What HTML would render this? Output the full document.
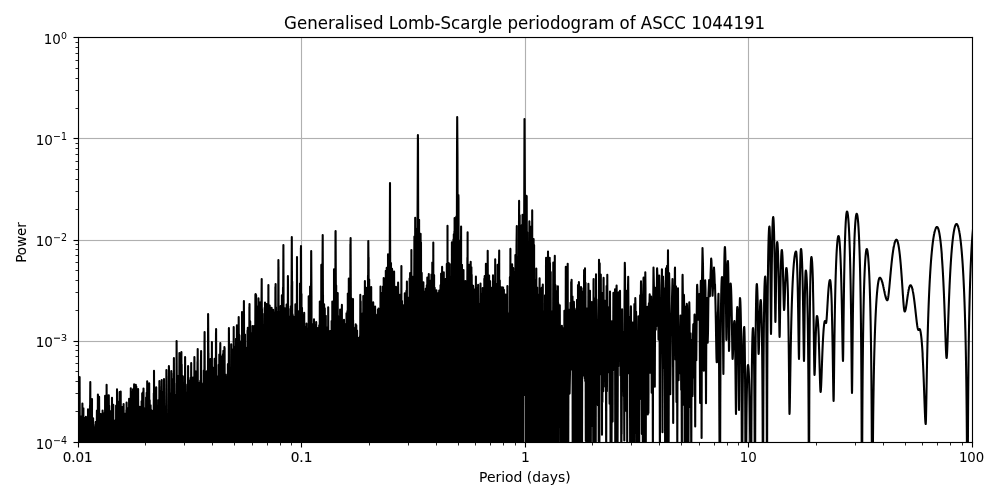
<!DOCTYPE html>
<html><head><meta charset="utf-8"><title>Generalised Lomb-Scargle periodogram of ASCC 1044191</title>
<style>html,body{margin:0;padding:0;background:#fff;}svg{display:block;}</style></head>
<body>
<svg width="1000" height="500" viewBox="0 0 1000 500">
<defs><clipPath id="ax"><rect x="78" y="37" width="894" height="405"/></clipPath></defs>
<rect x="0" y="0" width="1000" height="500" fill="#fff"/>
<g shape-rendering="crispEdges">
<rect x="300" y="39" width="1" height="98" fill="#fafafa"/>
<rect x="300" y="140" width="1" height="99" fill="#fafafa"/>
<rect x="300" y="242" width="1" height="98" fill="#fafafa"/>
<rect x="300" y="343" width="1" height="98" fill="#fafafa"/>
<rect x="301" y="39" width="1" height="402" fill="#b0b0b0"/>
<rect x="302" y="39" width="1" height="98" fill="#fafafa"/>
<rect x="302" y="140" width="1" height="99" fill="#fafafa"/>
<rect x="302" y="242" width="1" height="98" fill="#fafafa"/>
<rect x="302" y="343" width="1" height="98" fill="#fafafa"/>
<rect x="524" y="39" width="1" height="98" fill="#fafafa"/>
<rect x="524" y="140" width="1" height="99" fill="#fafafa"/>
<rect x="524" y="242" width="1" height="98" fill="#fafafa"/>
<rect x="524" y="343" width="1" height="98" fill="#fafafa"/>
<rect x="525" y="39" width="1" height="402" fill="#b0b0b0"/>
<rect x="526" y="39" width="1" height="98" fill="#fafafa"/>
<rect x="526" y="140" width="1" height="99" fill="#fafafa"/>
<rect x="526" y="242" width="1" height="98" fill="#fafafa"/>
<rect x="526" y="343" width="1" height="98" fill="#fafafa"/>
<rect x="747" y="39" width="1" height="98" fill="#fafafa"/>
<rect x="747" y="140" width="1" height="99" fill="#fafafa"/>
<rect x="747" y="242" width="1" height="98" fill="#fafafa"/>
<rect x="747" y="343" width="1" height="98" fill="#fafafa"/>
<rect x="748" y="39" width="1" height="402" fill="#b0b0b0"/>
<rect x="749" y="39" width="1" height="98" fill="#fafafa"/>
<rect x="749" y="140" width="1" height="99" fill="#fafafa"/>
<rect x="749" y="242" width="1" height="98" fill="#fafafa"/>
<rect x="749" y="343" width="1" height="98" fill="#fafafa"/>
<rect x="80" y="137" width="220" height="1" fill="#fafafa"/>
<rect x="300" y="137" width="1" height="1" fill="#f5f5f5"/>
<rect x="302" y="137" width="1" height="1" fill="#f5f5f5"/>
<rect x="303" y="137" width="221" height="1" fill="#fafafa"/>
<rect x="524" y="137" width="1" height="1" fill="#f5f5f5"/>
<rect x="526" y="137" width="1" height="1" fill="#f5f5f5"/>
<rect x="527" y="137" width="220" height="1" fill="#fafafa"/>
<rect x="747" y="137" width="1" height="1" fill="#f5f5f5"/>
<rect x="749" y="137" width="1" height="1" fill="#f5f5f5"/>
<rect x="750" y="137" width="221" height="1" fill="#fafafa"/>
<rect x="80" y="138" width="221" height="1" fill="#b0b0b0"/>
<rect x="302" y="138" width="223" height="1" fill="#b0b0b0"/>
<rect x="526" y="138" width="222" height="1" fill="#b0b0b0"/>
<rect x="749" y="138" width="222" height="1" fill="#b0b0b0"/>
<rect x="80" y="139" width="220" height="1" fill="#fafafa"/>
<rect x="300" y="139" width="1" height="1" fill="#f5f5f5"/>
<rect x="302" y="139" width="1" height="1" fill="#f5f5f5"/>
<rect x="303" y="139" width="221" height="1" fill="#fafafa"/>
<rect x="524" y="139" width="1" height="1" fill="#f5f5f5"/>
<rect x="526" y="139" width="1" height="1" fill="#f5f5f5"/>
<rect x="527" y="139" width="220" height="1" fill="#fafafa"/>
<rect x="747" y="139" width="1" height="1" fill="#f5f5f5"/>
<rect x="749" y="139" width="1" height="1" fill="#f5f5f5"/>
<rect x="750" y="139" width="221" height="1" fill="#fafafa"/>
<rect x="80" y="239" width="220" height="1" fill="#fafafa"/>
<rect x="300" y="239" width="1" height="1" fill="#f5f5f5"/>
<rect x="302" y="239" width="1" height="1" fill="#f5f5f5"/>
<rect x="303" y="239" width="221" height="1" fill="#fafafa"/>
<rect x="524" y="239" width="1" height="1" fill="#f5f5f5"/>
<rect x="526" y="239" width="1" height="1" fill="#f5f5f5"/>
<rect x="527" y="239" width="220" height="1" fill="#fafafa"/>
<rect x="747" y="239" width="1" height="1" fill="#f5f5f5"/>
<rect x="749" y="239" width="1" height="1" fill="#f5f5f5"/>
<rect x="750" y="239" width="221" height="1" fill="#fafafa"/>
<rect x="80" y="240" width="221" height="1" fill="#b0b0b0"/>
<rect x="302" y="240" width="223" height="1" fill="#b0b0b0"/>
<rect x="526" y="240" width="222" height="1" fill="#b0b0b0"/>
<rect x="749" y="240" width="222" height="1" fill="#b0b0b0"/>
<rect x="80" y="241" width="220" height="1" fill="#fafafa"/>
<rect x="300" y="241" width="1" height="1" fill="#f5f5f5"/>
<rect x="302" y="241" width="1" height="1" fill="#f5f5f5"/>
<rect x="303" y="241" width="221" height="1" fill="#fafafa"/>
<rect x="524" y="241" width="1" height="1" fill="#f5f5f5"/>
<rect x="526" y="241" width="1" height="1" fill="#f5f5f5"/>
<rect x="527" y="241" width="220" height="1" fill="#fafafa"/>
<rect x="747" y="241" width="1" height="1" fill="#f5f5f5"/>
<rect x="749" y="241" width="1" height="1" fill="#f5f5f5"/>
<rect x="750" y="241" width="221" height="1" fill="#fafafa"/>
<rect x="80" y="340" width="220" height="1" fill="#fafafa"/>
<rect x="300" y="340" width="1" height="1" fill="#f5f5f5"/>
<rect x="302" y="340" width="1" height="1" fill="#f5f5f5"/>
<rect x="303" y="340" width="221" height="1" fill="#fafafa"/>
<rect x="524" y="340" width="1" height="1" fill="#f5f5f5"/>
<rect x="526" y="340" width="1" height="1" fill="#f5f5f5"/>
<rect x="527" y="340" width="220" height="1" fill="#fafafa"/>
<rect x="747" y="340" width="1" height="1" fill="#f5f5f5"/>
<rect x="749" y="340" width="1" height="1" fill="#f5f5f5"/>
<rect x="750" y="340" width="221" height="1" fill="#fafafa"/>
<rect x="80" y="341" width="221" height="1" fill="#b0b0b0"/>
<rect x="302" y="341" width="223" height="1" fill="#b0b0b0"/>
<rect x="526" y="341" width="222" height="1" fill="#b0b0b0"/>
<rect x="749" y="341" width="222" height="1" fill="#b0b0b0"/>
<rect x="80" y="342" width="220" height="1" fill="#fafafa"/>
<rect x="300" y="342" width="1" height="1" fill="#f5f5f5"/>
<rect x="302" y="342" width="1" height="1" fill="#f5f5f5"/>
<rect x="303" y="342" width="221" height="1" fill="#fafafa"/>
<rect x="524" y="342" width="1" height="1" fill="#f5f5f5"/>
<rect x="526" y="342" width="1" height="1" fill="#f5f5f5"/>
<rect x="527" y="342" width="220" height="1" fill="#fafafa"/>
<rect x="747" y="342" width="1" height="1" fill="#f5f5f5"/>
<rect x="749" y="342" width="1" height="1" fill="#f5f5f5"/>
<rect x="750" y="342" width="221" height="1" fill="#fafafa"/>
</g>
<g clip-path="url(#ax)">
<polyline points="76.0,470.0 76.0,440.9 76.5,470.0 76.5,470.0 76.8,438.2 77.0,470.0 77.0,470.0 77.3,435.0 77.5,470.0 77.5,470.0 77.8,437.0 78.0,470.0 78.0,470.0 78.2,421.9 78.5,470.0 78.5,470.0 78.7,410.8 79.0,470.0 79.0,470.0 79.5,386.2 79.5,408.9 79.5,408.9 79.6,377.0 79.9,470.0 80.0,470.0 80.0,470.0 80.5,416.2 80.5,470.0 80.5,470.0 80.6,420.7 81.0,470.0 81.0,470.0 81.5,420.8 81.5,470.0 81.5,470.0 81.7,439.5 82.0,470.0 82.0,470.0 82.4,403.6 82.5,470.0 82.5,470.0 82.7,426.0 83.0,470.0 83.0,470.0 83.4,408.3 83.5,470.0 83.5,470.0 83.9,433.1 84.0,470.0 84.0,470.0 84.5,418.3 84.5,470.0 84.5,470.0 84.7,423.5 85.0,470.0 85.0,470.0 85.2,421.3 85.5,458.0 85.5,448.3 85.5,470.0 85.9,416.7 86.0,470.0 86.0,470.0 86.3,431.5 86.5,470.0 86.5,470.0 87.0,429.4 87.0,470.0 87.0,470.0 87.0,429.9 87.5,470.0 87.5,470.0 87.9,429.1 88.0,470.0 88.0,470.0 88.0,409.4 88.5,470.0 88.5,470.0 88.6,421.2 89.0,468.9 89.0,470.0 89.1,418.2 89.5,470.0 89.5,470.0 90.0,405.4 90.0,424.6 90.0,423.0 90.3,382.0 90.5,462.8 90.5,460.9 90.5,461.9 90.5,419.5 90.5,470.0 91.0,465.9 91.0,454.7 91.0,470.0 91.1,408.3 91.5,470.0 91.5,470.0 92.0,399.1 92.0,470.0 92.0,470.0 92.0,422.5 92.5,470.0 92.5,470.0 92.5,425.0 93.0,470.0 93.0,470.0 93.1,418.3 93.5,470.0 93.5,470.0 94.0,433.0 94.0,470.0 94.0,470.0 94.2,427.8 94.5,456.8 94.5,456.5 94.5,470.0 94.6,438.3 95.0,470.0 95.0,470.0 95.4,424.7 95.5,470.0 95.5,470.0 95.7,422.0 96.0,470.0 96.0,470.0 96.3,425.3 96.5,470.0 96.5,470.0 96.9,410.6 97.0,470.0 97.0,470.0 97.0,426.5 97.5,470.0 97.5,470.0 97.9,394.6 98.0,470.0 98.0,470.0 98.1,410.7 98.5,470.0 98.5,470.0 98.9,422.9 99.0,470.0 99.0,470.0 99.1,396.7 99.5,470.0 99.5,470.0 99.9,430.2 100.0,470.0 100.0,470.0 100.3,414.0 100.5,470.0 100.5,470.0 100.9,428.9 101.0,470.0 101.0,470.0 101.4,414.4 101.5,470.0 101.5,470.0 101.6,427.9 102.0,470.0 102.0,470.0 102.2,417.2 102.5,470.0 102.5,470.0 102.6,410.5 103.0,470.0 103.0,470.0 103.4,423.0 103.5,470.0 103.5,470.0 103.8,413.6 104.0,470.0 104.0,470.0 104.5,414.6 104.5,470.0 104.5,470.0 105.0,424.5 105.0,470.0 105.0,470.0 105.1,395.8 105.5,470.0 105.5,470.0 105.8,408.3 106.0,470.0 106.0,470.0 106.3,408.2 106.5,462.8 106.5,460.4 106.5,470.0 106.6,384.7 107.0,470.0 107.0,470.0 107.2,431.7 107.5,458.7 107.5,455.2 107.5,470.0 107.9,395.7 108.0,470.0 108.0,470.0 108.4,402.9 108.5,464.5 108.5,467.2 108.5,470.0 108.8,395.3 109.0,470.0 109.0,470.0 109.2,405.8 109.5,470.0 109.5,470.0 109.8,411.2 110.0,470.0 110.0,470.0 110.2,411.0 110.5,470.0 110.5,470.0 110.6,427.1 111.0,470.0 111.0,470.0 111.3,418.4 111.5,464.1 111.5,470.0 112.0,397.8 112.0,445.7 112.0,458.1 112.0,470.0 112.1,425.1 112.5,470.0 112.5,470.0 113.0,410.7 113.0,446.3 113.0,452.5 113.0,470.0 113.3,404.8 113.5,470.0 113.5,470.0 113.6,429.4 114.0,470.0 114.0,470.0 114.1,425.0 114.5,470.0 114.5,470.0 115.0,420.8 115.0,470.0 115.0,470.0 115.2,425.3 115.5,470.0 115.5,470.0 115.6,420.1 116.0,470.0 116.0,470.0 116.1,405.5 116.5,470.0 116.5,470.0 116.7,422.2 117.0,445.7 117.0,435.8 117.0,470.0 117.0,389.3 117.5,470.0 117.5,470.0 117.6,403.5 118.0,470.0 118.0,470.0 118.1,401.6 118.5,470.0 118.5,470.0 118.7,414.5 119.0,470.0 119.0,470.0 119.1,407.3 119.5,470.0 119.5,470.0 119.6,392.0 120.0,470.0 120.0,470.0 120.5,392.2 120.5,470.0 120.5,470.0 120.7,391.6 121.0,470.0 121.0,470.0 121.1,412.0 121.5,470.0 121.5,470.0 121.7,420.4 122.0,458.7 122.0,459.2 122.0,470.0 122.3,407.0 122.5,470.0 122.5,470.0 122.8,418.3 123.0,470.0 123.0,470.0 123.1,416.6 123.5,470.0 123.5,470.0 123.6,404.0 124.0,470.0 124.0,470.0 124.3,434.2 124.5,470.0 124.5,470.0 125.0,421.8 125.0,470.0 125.0,470.0 125.4,413.6 125.5,470.0 125.5,470.0 125.9,432.9 126.0,450.8 126.0,440.7 126.0,470.0 126.4,410.1 126.5,470.0 126.5,470.0 126.6,402.5 127.0,470.0 127.0,470.0 127.5,408.6 127.5,470.0 127.5,470.0 127.5,408.1 128.0,470.0 128.0,470.0 128.2,412.0 128.5,469.8 128.5,468.1 128.5,470.0 128.6,415.2 129.0,470.0 129.0,470.0 129.1,398.8 129.5,470.0 129.5,470.0 129.8,409.1 130.0,470.0 130.0,470.0 130.2,407.2 130.5,470.0 130.5,470.0 130.8,388.2 131.0,442.9 131.0,447.0 131.0,470.0 131.3,394.5 131.5,470.0 131.5,470.0 131.9,407.8 132.0,458.0 132.0,454.6 132.0,470.0 132.5,391.9 132.5,441.8 132.5,435.1 132.5,470.0 133.0,389.2 133.0,470.0 133.0,470.0 133.0,399.7 133.5,466.7 133.5,470.0 134.0,400.4 134.0,470.0 134.0,470.0 134.1,384.4 134.5,470.0 134.5,470.0 134.7,400.6 135.0,452.4 135.0,446.0 135.0,470.0 135.5,389.1 135.5,443.2 135.5,447.4 135.5,470.0 135.8,384.7 136.0,444.1 136.0,451.6 136.0,470.0 136.3,386.5 136.5,469.4 136.5,470.0 136.7,405.9 137.0,470.0 137.0,470.0 137.1,403.5 137.5,470.0 137.5,470.0 137.9,398.2 138.0,458.3 138.0,465.0 138.0,470.0 138.1,389.0 138.5,470.0 138.5,470.0 138.5,411.2 139.0,453.0 139.0,467.5 139.0,470.0 139.1,424.6 139.5,470.0 139.5,470.0 139.9,406.9 140.0,470.0 140.0,470.0 140.1,416.1 140.5,470.0 140.5,470.0 141.0,420.3 141.0,470.0 141.0,470.0 141.1,414.3 141.5,469.4 141.5,470.0 141.6,401.3 142.0,470.0 142.0,470.0 142.2,393.4 142.5,446.9 142.5,447.5 142.5,470.0 142.7,401.4 143.0,470.0 143.0,470.0 143.3,391.4 143.5,470.0 143.5,470.0 143.5,388.6 144.0,465.3 144.0,470.0 144.1,408.1 144.5,470.0 144.5,470.0 145.0,417.2 145.0,470.0 145.0,470.0 145.3,414.5 145.5,470.0 145.5,470.0 145.8,419.4 146.0,470.0 146.0,470.0 146.1,397.6 146.5,470.0 146.5,470.0 146.7,392.8 147.0,470.0 147.0,470.0 147.2,381.2 147.5,470.0 147.5,470.0 147.7,394.7 148.0,468.5 148.0,470.0 148.3,421.0 148.5,470.0 148.5,470.0 148.5,415.0 149.0,470.0 149.0,470.0 149.2,383.2 149.5,470.0 149.5,470.0 149.7,400.2 150.0,470.0 150.0,470.0 150.3,418.0 150.5,470.0 150.5,470.0 150.6,405.2 151.0,459.9 151.0,470.0 151.3,425.5 151.5,470.0 151.5,470.0 151.7,410.6 152.0,470.0 152.0,470.0 152.2,416.6 152.5,470.0 152.5,470.0 152.7,417.3 153.0,470.0 153.0,470.0 153.1,414.2 153.5,470.0 153.5,470.0 153.8,393.2 154.0,470.0 154.0,470.0 154.0,370.7 154.5,470.0 154.5,470.0 155.0,401.2 155.0,470.0 155.0,470.0 155.3,404.1 155.5,470.0 155.5,470.0 155.8,413.7 156.0,470.0 156.0,470.0 156.2,387.2 156.5,470.0 156.5,470.0 156.9,412.4 157.0,470.0 157.0,470.0 157.5,414.0 157.5,470.0 157.5,470.0 157.6,422.6 158.0,470.0 158.0,470.0 158.4,400.1 158.5,470.0 158.5,470.0 158.6,404.0 159.0,470.0 159.0,470.0 159.4,381.0 159.5,404.3 159.5,404.0 159.5,386.3 159.7,470.0 160.0,470.0 160.0,470.0 160.3,397.5 160.5,440.0 160.5,434.0 160.5,470.0 160.7,401.0 161.0,470.0 161.0,470.0 161.5,390.2 161.5,430.2 161.5,422.1 161.7,380.0 162.0,470.0 162.0,437.7 162.0,443.3 162.0,470.0 162.3,391.9 162.5,420.3 162.5,416.9 162.5,470.0 162.7,402.5 163.0,404.2 163.0,423.1 163.0,470.0 163.3,422.0 163.5,457.2 163.5,459.0 163.5,470.0 164.0,381.9 164.0,401.5 164.0,402.2 164.0,379.0 164.4,470.0 164.5,470.0 164.5,470.0 164.7,408.9 165.0,470.0 165.0,456.1 165.0,470.0 165.3,413.3 165.5,470.0 165.5,470.0 165.6,406.3 166.0,470.0 166.0,470.0 166.4,370.0 166.5,390.1 166.5,388.3 166.5,375.7 166.8,470.0 167.0,445.5 167.0,450.0 167.0,470.0 167.4,421.6 167.5,470.0 167.5,470.0 167.7,418.2 168.0,470.0 168.0,470.0 168.3,416.2 168.5,470.0 168.5,470.0 168.9,366.0 169.0,394.5 169.0,389.9 169.0,367.3 169.2,470.0 169.5,470.0 169.5,470.0 169.6,393.4 170.0,470.0 170.0,470.0 170.2,396.0 170.5,452.3 170.5,444.3 170.5,470.0 170.8,401.8 171.0,432.7 171.0,449.4 171.0,470.0 171.3,371.0 171.5,402.3 171.5,401.7 171.5,373.2 171.8,470.0 172.0,470.0 172.0,464.2 172.0,470.0 172.1,380.7 172.5,470.0 172.5,470.0 172.6,379.8 173.0,459.3 173.0,468.1 173.0,470.0 173.4,395.6 173.5,470.0 173.5,470.0 173.9,358.0 174.0,399.6 174.0,399.6 174.1,383.3 174.3,470.0 174.5,470.0 174.5,470.0 174.7,403.7 175.0,470.0 175.0,470.0 175.3,395.1 175.5,470.0 175.5,470.0 175.5,399.9 176.0,470.0 176.0,470.0 176.5,372.6 176.5,385.3 176.5,384.7 176.6,341.0 177.0,430.8 177.0,429.9 177.0,430.6 177.1,470.0 177.4,394.3 177.5,464.5 177.5,470.0 178.0,388.3 178.0,470.0 178.0,470.0 178.2,398.1 178.5,470.0 178.5,470.0 178.6,375.9 179.0,429.5 179.0,431.6 179.0,470.0 179.4,353.0 179.5,379.4 179.5,379.4 179.6,356.7 179.8,470.0 180.0,470.0 180.0,470.0 180.1,393.9 180.5,437.3 180.5,436.3 180.5,470.0 180.7,399.9 181.0,470.0 181.0,470.0 181.4,352.0 181.5,419.2 181.5,409.8 181.5,470.0 181.7,364.5 182.0,434.5 182.0,427.5 182.0,470.0 182.4,382.9 182.5,427.2 182.5,423.2 182.5,470.0 182.9,376.4 183.0,408.5 183.0,434.4 183.0,470.0 183.3,396.5 183.5,443.8 183.5,445.7 183.5,470.0 183.9,393.6 184.0,470.0 184.0,470.0 184.2,386.2 184.5,470.0 184.5,470.0 185.0,382.0 185.0,401.1 185.0,400.3 185.1,357.0 185.5,470.0 185.5,465.5 185.5,466.4 185.5,470.0 185.8,384.5 186.0,463.3 186.0,470.0 186.4,411.0 186.5,427.2 186.5,434.6 186.5,470.0 186.8,392.5 187.0,470.0 187.0,470.0 187.4,403.0 187.5,470.0 187.5,470.0 188.0,385.5 188.0,415.8 188.0,414.5 188.1,366.0 188.4,470.0 188.5,456.3 188.5,456.2 188.5,470.0 188.9,406.5 189.0,470.0 189.0,464.4 189.0,470.0 189.4,393.5 189.5,470.0 189.5,470.0 189.6,386.8 190.0,470.0 190.0,470.0 190.1,380.4 190.5,470.0 190.5,470.0 190.6,377.9 191.0,404.6 191.0,410.1 191.2,363.0 191.5,459.7 191.5,419.7 191.5,415.4 191.5,387.8 191.5,470.0 192.0,470.0 192.0,470.0 192.3,396.7 192.5,470.0 192.5,470.0 192.5,400.2 193.0,470.0 193.0,451.0 193.0,470.0 193.3,377.3 193.5,455.5 193.5,464.3 193.5,470.0 193.7,386.6 194.0,470.0 194.0,470.0 194.4,357.0 194.5,393.0 194.5,394.9 194.6,370.2 194.7,470.0 195.0,425.5 195.0,430.0 195.0,470.0 195.2,383.2 195.5,443.1 195.5,450.4 195.5,470.0 195.6,371.2 196.0,413.0 196.0,433.0 196.0,470.0 196.2,395.3 196.5,403.8 196.5,403.0 196.5,470.0 196.5,381.0 197.0,467.1 197.0,470.0 197.5,361.7 197.5,387.0 197.5,383.1 197.7,349.0 198.0,447.3 198.0,410.9 198.0,410.5 198.0,470.0 198.1,388.2 198.5,470.0 198.5,470.0 198.9,391.6 199.0,470.0 199.0,470.0 199.2,383.1 199.5,470.0 199.5,470.0 199.5,385.3 200.0,433.6 200.0,442.9 200.0,470.0 200.3,380.7 200.5,466.7 200.5,455.0 200.5,470.0 200.9,359.8 201.0,365.6 201.0,367.3 201.1,351.0 201.5,470.0 201.5,463.8 201.5,469.1 201.5,470.0 201.9,429.2 202.0,470.0 202.0,470.0 202.1,401.7 202.5,469.1 202.5,467.6 202.5,470.0 202.6,394.2 203.0,450.7 203.0,444.6 203.0,470.0 203.3,383.2 203.5,470.0 203.5,470.0 203.8,370.5 204.0,429.6 204.0,419.4 204.0,470.0 204.5,340.5 204.5,350.1 204.5,351.0 204.6,332.0 205.0,452.7 205.0,431.7 205.0,440.3 205.0,470.0 205.4,391.3 205.5,455.7 205.5,453.0 205.5,470.0 205.7,379.2 206.0,470.0 206.0,470.0 206.3,392.4 206.5,470.0 206.5,470.0 206.8,371.2 207.0,470.0 207.0,470.0 207.3,385.7 207.5,470.0 207.5,470.0 208.0,360.1 208.0,373.1 208.0,372.5 208.0,377.4 208.1,314.0 208.5,362.1 208.5,362.4 208.5,352.9 208.7,470.0 209.0,470.0 209.0,470.0 209.4,370.1 209.5,470.0 209.5,470.0 209.7,400.1 210.0,470.0 210.0,470.0 210.3,369.0 210.5,470.0 210.5,470.0 210.5,359.0 211.0,470.0 211.0,470.0 211.3,369.4 211.5,470.0 211.5,470.0 211.9,342.1 212.0,420.2 212.0,424.0 212.2,372.2 212.3,470.0 212.5,449.5 212.5,449.0 212.5,470.0 212.9,381.0 213.0,470.0 213.0,470.0 213.1,367.9 213.5,436.5 213.5,438.1 213.5,470.0 213.6,384.4 214.0,470.0 214.0,470.0 214.1,374.7 214.5,470.0 214.5,470.0 214.6,358.8 215.0,464.2 215.0,456.5 215.0,470.0 215.2,369.1 215.5,470.0 215.5,470.0 216.0,332.8 216.0,348.2 216.0,348.4 216.1,329.0 216.5,470.0 216.5,390.1 216.5,391.9 216.5,470.0 216.9,384.8 217.0,452.4 217.0,455.2 217.0,470.0 217.1,376.4 217.5,470.0 217.5,470.0 217.6,399.8 218.0,470.0 218.0,470.0 218.2,381.7 218.5,470.0 218.5,470.0 218.7,364.9 219.0,465.1 219.0,452.7 219.0,470.0 219.3,354.6 219.5,470.0 219.5,470.0 219.8,357.0 220.0,382.0 220.0,372.3 220.3,343.0 220.5,447.1 220.5,443.6 220.5,451.5 220.5,470.0 221.0,356.4 221.0,366.8 221.0,382.5 221.0,470.0 221.1,365.9 221.5,446.3 221.5,445.3 221.5,470.0 221.6,381.2 222.0,470.0 222.0,470.0 222.2,361.6 222.5,419.1 222.5,416.0 222.5,470.0 222.9,354.4 223.0,411.8 223.0,423.3 223.0,470.0 223.4,350.9 223.5,414.2 223.5,419.6 223.5,470.0 223.5,356.2 224.0,470.0 224.0,470.0 224.4,347.0 224.5,368.3 224.5,369.8 224.6,348.0 224.9,470.0 225.0,434.5 225.0,445.6 225.0,470.0 225.5,381.0 225.5,470.0 225.5,470.0 225.7,374.6 226.0,452.3 226.0,458.9 226.0,470.0 226.0,388.5 226.5,470.0 226.5,470.0 226.6,376.5 227.0,455.6 227.0,442.2 227.0,470.0 227.4,377.6 227.5,470.0 227.5,470.0 227.9,364.3 228.0,470.0 228.0,470.0 228.2,363.8 228.5,402.4 228.5,401.3 228.5,470.0 228.9,328.0 229.0,342.2 229.0,349.1 229.4,470.0 229.5,470.0 229.5,470.0 229.8,391.4 230.0,470.0 230.0,470.0 230.5,389.0 230.5,453.3 230.5,455.9 230.5,470.0 230.6,379.3 231.0,403.7 231.0,387.0 231.0,470.0 231.2,344.3 231.5,450.9 231.5,462.1 231.5,470.0 231.8,366.5 232.0,452.7 232.0,452.6 232.0,470.0 232.0,370.1 232.5,470.0 232.5,470.0 232.5,349.8 233.0,383.7 233.0,394.6 233.0,470.0 233.4,357.5 233.5,404.5 233.5,404.9 233.7,327.0 234.0,408.1 234.0,383.7 234.0,386.6 234.1,346.5 234.1,470.0 234.5,438.5 234.5,447.7 234.5,470.0 234.6,370.1 235.0,470.0 235.0,462.3 235.0,470.0 235.3,355.8 235.5,438.2 235.5,432.2 235.5,470.0 235.9,355.2 236.0,470.0 236.0,470.0 236.0,338.9 236.5,425.3 236.5,436.6 236.5,470.0 236.9,325.3 237.0,470.0 237.0,465.9 237.0,470.0 237.4,337.9 237.5,387.5 237.5,389.5 237.5,470.0 237.9,341.5 238.0,398.5 238.0,401.7 238.0,470.0 238.4,334.0 238.5,366.2 238.5,368.6 238.7,317.0 239.0,392.7 239.0,388.6 239.0,388.3 239.1,334.5 239.1,470.0 239.5,437.8 239.5,432.1 239.5,470.0 239.7,345.1 240.0,455.1 240.0,450.2 240.0,470.0 240.1,350.0 240.5,379.2 240.5,381.0 240.5,470.0 240.9,354.0 241.0,411.1 241.0,408.6 241.0,470.0 241.1,341.3 241.5,470.0 241.5,459.4 241.5,470.0 241.7,335.6 242.0,468.9 242.0,462.0 242.0,470.0 242.0,312.1 242.5,470.0 242.5,470.0 242.8,328.5 243.0,450.0 243.0,445.4 243.0,470.0 243.1,342.4 243.5,382.6 243.5,385.4 243.5,469.9 243.9,301.0 244.0,329.1 244.0,329.2 244.0,313.4 244.4,470.0 244.5,410.7 244.5,405.9 244.5,470.0 245.0,334.5 245.0,406.2 245.0,405.5 245.0,470.0 245.3,347.4 245.5,470.0 245.5,469.2 245.5,470.0 245.8,362.6 246.0,470.0 246.0,470.0 246.3,348.0 246.5,398.7 246.5,395.2 246.5,470.0 246.8,347.8 247.0,470.0 247.0,470.0 247.5,330.6 247.5,470.0 247.5,462.3 247.5,470.0 247.8,327.8 248.0,470.0 248.0,470.0 248.3,332.8 248.5,406.3 248.5,397.0 248.5,470.0 248.6,349.8 249.0,437.6 249.0,451.3 249.0,470.0 249.4,306.7 249.5,323.4 249.5,324.0 249.5,304.0 250.0,470.0 250.0,397.8 250.0,401.2 250.0,470.0 250.2,321.4 250.5,408.3 250.5,402.6 250.5,470.0 250.9,333.1 251.0,413.9 251.0,405.3 251.0,470.0 251.5,346.2 251.5,397.7 251.5,395.1 251.5,470.0 251.7,349.8 252.0,406.8 252.0,402.0 252.0,470.0 252.5,326.1 252.5,410.4 252.5,407.2 252.5,470.0 252.6,352.9 253.0,470.0 253.0,464.9 253.0,328.3 253.0,470.0 253.5,406.5 253.5,396.9 253.5,470.0 253.7,333.1 254.0,373.3 254.0,370.0 254.0,470.0 254.4,325.7 254.5,428.8 254.5,417.7 254.5,470.0 254.8,343.9 255.0,394.1 255.0,387.7 255.0,407.6 255.4,294.6 255.5,303.1 255.5,302.1 255.6,294.0 255.9,470.0 256.0,422.3 256.0,415.6 256.0,470.0 256.1,295.1 256.5,397.1 256.5,408.0 256.5,470.0 256.9,312.1 257.0,470.0 257.0,470.0 257.5,331.7 257.5,392.7 257.5,401.1 257.5,470.0 257.7,322.7 258.0,373.4 258.0,364.5 258.0,470.0 258.2,306.1 258.5,370.5 258.5,366.9 258.5,470.0 258.5,298.4 259.0,467.9 259.0,443.5 259.0,470.0 259.3,313.5 259.5,407.0 259.5,407.6 259.5,470.0 259.8,302.6 260.0,410.0 260.0,408.7 260.0,470.0 260.1,303.7 260.5,456.4 260.5,432.5 260.5,470.0 260.6,320.5 261.0,441.6 261.0,458.1 261.0,470.0 261.3,301.2 261.5,303.2 261.5,303.1 261.7,279.0 262.0,370.3 262.0,361.4 262.0,362.8 262.0,309.1 262.2,470.0 262.5,399.5 262.5,392.2 262.5,470.0 262.5,313.8 263.0,401.1 263.0,402.3 263.0,470.0 263.2,325.3 263.5,408.6 263.5,401.8 263.5,470.0 263.8,335.8 264.0,455.3 264.0,455.0 264.0,470.0 264.5,332.9 264.5,362.6 264.5,366.7 264.5,470.0 264.7,307.8 265.0,320.5 265.0,308.5 265.0,302.6 265.0,470.0 265.5,445.8 265.5,435.7 265.5,470.0 265.8,317.6 266.0,392.0 266.0,379.3 266.0,470.0 266.0,319.7 266.5,395.7 266.5,396.5 266.5,470.0 266.6,304.1 267.0,431.3 267.0,447.3 267.0,470.0 267.5,339.2 267.5,338.5 267.5,470.0 267.9,313.0 268.0,383.1 268.0,381.6 268.0,390.5 268.4,285.0 268.5,324.2 268.5,323.8 268.5,319.1 268.9,470.0 269.0,402.8 269.0,407.3 269.0,470.0 269.4,326.9 269.5,429.4 269.5,437.6 269.5,470.0 269.7,305.6 270.0,355.9 270.0,352.3 270.0,470.0 270.2,325.6 270.5,470.0 270.5,470.0 270.7,327.8 271.0,385.0 271.0,396.3 271.0,470.0 271.3,311.5 271.5,408.8 271.5,427.0 271.5,470.0 271.6,307.8 272.0,455.9 272.0,469.6 272.0,470.0 272.2,334.7 272.5,456.6 272.5,454.7 272.5,470.0 272.7,331.1 273.0,385.3 273.0,370.4 273.0,470.0 273.1,309.7 273.5,470.0 273.5,470.0 273.7,312.3 274.0,391.4 274.0,383.1 274.0,470.0 274.3,324.8 274.5,379.5 274.5,380.0 274.5,470.0 274.9,319.2 275.0,470.0 275.0,470.0 275.4,286.9 275.5,308.6 275.5,309.2 275.6,284.0 276.0,450.6 276.0,359.2 276.0,364.8 276.0,307.4 276.1,470.0 276.5,398.7 276.5,393.2 276.5,470.0 277.0,311.8 277.0,452.6 277.0,470.0 277.4,325.9 277.5,392.9 277.5,389.8 277.5,470.0 277.8,322.7 278.0,340.4 278.0,340.6 278.0,374.8 278.4,260.0 278.5,271.7 278.5,271.4 278.5,267.1 278.9,470.0 279.0,358.2 279.0,357.4 279.0,470.0 279.4,320.0 279.5,376.9 279.5,385.0 279.5,470.0 279.7,323.4 280.0,470.0 280.0,470.0 280.3,329.0 280.5,407.0 280.5,412.9 280.5,470.0 280.7,306.1 281.0,397.1 281.0,377.7 281.0,470.0 281.2,319.8 281.5,394.1 281.5,394.6 281.5,470.0 281.9,295.3 282.0,348.4 282.0,356.7 282.0,470.0 282.5,303.5 282.5,353.7 282.5,362.2 282.5,470.0 283.0,287.5 283.0,331.5 283.0,334.3 283.0,335.5 283.4,245.0 283.5,282.4 283.5,281.1 283.5,271.7 283.9,470.0 284.0,329.9 284.0,333.8 284.0,470.0 284.4,310.1 284.5,370.0 284.5,383.9 284.5,470.0 284.6,308.0 285.0,360.8 285.0,367.3 285.0,470.0 285.3,317.2 285.5,409.7 285.5,429.4 285.5,470.0 285.7,328.5 286.0,384.4 286.0,363.4 286.0,470.0 286.5,329.4 286.5,359.9 286.5,358.8 286.5,470.0 286.6,304.6 287.0,443.6 287.0,425.2 287.1,470.0 287.2,311.0 287.5,328.5 287.5,324.6 287.5,437.5 287.9,276.0 288.0,286.5 288.0,286.6 288.0,283.8 288.5,462.1 288.5,411.9 288.5,411.2 288.5,470.0 288.9,316.6 289.0,426.9 289.0,430.6 289.0,470.0 289.0,326.6 289.5,348.9 289.5,351.2 289.5,470.0 289.7,319.5 290.0,360.4 290.0,356.4 290.0,470.0 290.4,308.9 290.5,421.7 290.5,422.3 290.5,470.0 290.8,306.2 291.0,371.2 291.0,348.1 291.1,470.0 291.5,285.3 291.5,300.6 291.5,301.2 291.5,301.4 291.8,237.0 292.0,287.5 292.0,288.5 292.2,281.6 292.3,470.0 292.5,400.2 292.5,397.8 292.5,470.0 292.6,314.4 293.0,364.2 293.0,361.7 293.0,470.0 293.1,330.7 293.5,364.0 293.5,360.8 293.5,470.0 293.7,316.8 294.0,457.2 294.0,437.1 294.0,470.0 294.3,321.5 294.5,470.0 294.5,470.0 294.7,319.8 295.0,390.2 295.0,383.9 295.0,470.0 295.4,304.4 295.5,383.0 295.5,381.5 295.5,470.0 295.9,314.8 296.0,470.0 296.0,470.0 296.4,311.5 296.5,350.5 296.5,345.6 296.5,425.6 297.0,257.0 297.0,262.3 297.0,262.3 297.0,257.7 297.5,433.4 297.5,420.5 297.5,412.9 297.6,470.0 298.0,333.3 298.0,470.0 298.0,470.0 298.4,327.9 298.5,342.8 298.5,343.2 298.5,470.0 298.8,311.4 299.0,434.7 299.0,435.4 299.0,470.0 299.1,316.0 299.5,462.5 299.5,444.9 299.5,470.0 300.0,283.6 300.0,405.7 300.0,398.5 300.0,470.0 300.5,301.5 300.5,344.3 300.5,348.1 300.5,419.2 300.9,248.0 301.0,252.4 301.0,251.3 301.0,246.0 301.5,397.9 301.5,332.5 301.5,338.5 301.5,294.1 301.6,470.0 302.0,406.3 302.0,394.8 302.0,470.0 302.0,307.9 302.5,405.2 302.5,399.5 302.5,470.0 303.0,345.0 303.0,410.6 303.0,423.3 303.0,470.0 303.1,315.3 303.5,378.4 303.5,385.3 303.5,470.0 303.8,315.6 304.0,470.0 304.0,470.0 304.2,312.8 304.5,397.8 304.5,392.0 304.5,470.0 305.0,332.4 305.0,470.0 305.0,470.0 305.5,327.5 305.5,409.0 305.5,410.3 305.5,470.0 305.6,326.8 306.0,351.0 306.0,352.0 306.0,470.0 306.1,343.7 306.5,428.2 306.5,433.8 306.5,323.6 306.6,470.0 307.0,470.0 307.0,470.0 307.2,330.2 307.5,346.9 307.5,348.3 307.5,470.0 307.9,347.4 308.0,449.7 308.0,454.3 308.0,470.0 308.4,328.4 308.5,367.1 308.5,369.1 308.5,470.0 308.7,296.2 309.0,433.2 309.0,440.8 309.0,470.0 309.1,318.9 309.5,470.0 309.5,470.0 309.9,323.1 310.0,470.0 310.0,463.4 310.0,470.0 310.1,286.6 310.5,367.8 310.5,372.5 310.5,470.0 311.0,288.0 311.0,287.7 311.0,300.7 311.2,251.0 311.5,297.0 311.5,297.5 311.8,470.0 312.0,342.1 312.0,345.6 312.0,470.0 312.3,324.1 312.5,470.0 312.5,470.0 312.8,341.1 313.0,387.9 313.0,394.8 313.0,470.0 313.2,344.2 313.5,435.8 313.5,436.6 313.5,470.0 313.6,333.5 314.0,470.0 314.0,470.0 314.0,319.2 314.5,470.0 314.5,470.0 314.8,324.9 315.0,470.0 315.0,470.0 315.1,367.9 315.5,420.2 315.5,427.2 315.5,470.0 315.5,343.7 316.0,438.4 316.0,459.3 316.0,470.0 316.2,322.0 316.5,449.2 316.5,449.1 316.5,470.0 316.6,352.3 317.0,439.9 317.0,445.5 317.0,470.0 317.4,351.6 317.5,413.0 317.5,418.7 317.5,470.0 317.9,328.1 318.0,402.3 318.0,412.5 318.0,470.0 318.1,338.9 318.5,455.2 318.5,444.5 318.5,470.0 318.9,346.5 319.0,423.4 319.0,416.8 319.0,470.0 319.2,325.4 319.5,468.2 319.5,454.8 319.5,470.0 319.8,301.6 320.0,363.9 320.0,339.5 320.0,314.3 320.0,470.0 320.5,349.7 320.5,359.2 320.5,470.0 320.7,307.6 321.0,366.2 321.0,367.2 321.0,470.0 321.3,264.9 321.5,396.4 321.5,430.8 321.5,470.0 321.6,296.7 322.0,398.1 322.0,406.1 322.1,470.0 322.5,264.6 322.5,266.4 322.5,266.2 322.7,235.0 323.0,312.0 323.0,308.4 323.0,306.7 323.0,294.8 323.3,470.0 323.5,343.4 323.5,352.6 323.5,470.0 324.0,308.7 324.0,423.1 324.0,410.0 324.1,470.0 324.1,304.2 324.5,343.2 324.5,346.4 324.5,470.0 324.8,308.4 325.0,375.5 325.0,376.7 325.0,470.0 325.3,315.8 325.5,380.6 325.5,380.3 325.5,470.0 325.8,315.9 326.0,459.0 326.0,444.3 326.0,470.0 326.1,341.1 326.5,424.7 326.5,407.2 326.5,470.0 326.6,327.4 327.0,387.8 327.0,390.5 327.1,470.0 327.5,336.9 327.5,412.6 327.5,430.2 327.5,470.0 327.6,361.3 328.0,401.6 328.0,393.3 328.0,470.0 328.2,307.3 328.5,396.7 328.5,387.2 328.5,470.0 328.6,333.5 329.0,408.8 329.0,418.4 329.0,470.0 329.5,343.5 329.5,360.8 329.5,367.3 329.5,470.0 330.0,341.3 330.0,416.0 330.0,405.6 330.0,470.0 330.1,331.0 330.5,448.9 330.5,451.3 330.5,470.0 330.6,347.2 331.0,470.0 331.0,470.0 331.3,343.0 331.5,404.2 331.5,402.9 331.5,470.0 331.6,321.0 332.0,384.3 332.0,375.9 332.0,470.0 332.3,301.6 332.5,388.4 332.5,379.2 332.5,470.0 333.0,320.7 333.0,470.0 333.0,470.0 333.3,304.3 333.5,311.2 333.5,305.8 333.5,301.5 333.5,470.0 334.0,421.9 334.0,418.4 334.0,470.0 334.0,269.2 334.5,352.7 334.5,354.9 334.5,470.0 334.8,305.1 335.0,378.4 335.0,391.3 335.0,470.0 335.5,231.4 335.5,249.9 335.5,250.9 335.6,231.0 336.0,320.5 336.0,320.3 336.2,285.5 336.3,470.0 336.5,393.8 336.5,387.9 336.5,304.2 336.6,470.0 337.0,470.0 337.0,470.0 337.2,300.6 337.5,378.9 337.5,387.8 337.5,470.0 337.7,293.1 338.0,441.2 338.0,426.4 338.0,470.0 338.0,315.7 338.5,416.7 338.5,417.9 338.5,470.0 338.6,322.7 339.0,384.2 339.0,379.6 339.0,470.0 339.1,330.3 339.5,383.9 339.5,380.1 339.6,470.0 339.6,319.3 340.0,462.8 340.0,441.4 340.0,470.0 340.1,309.5 340.5,361.3 340.5,359.6 340.5,470.0 340.6,315.0 341.0,378.4 341.0,383.6 341.0,470.0 341.1,330.2 341.5,470.0 341.5,470.0 341.9,304.9 342.0,470.0 342.0,470.0 342.5,326.7 342.5,426.0 342.5,426.4 342.5,470.0 343.0,350.8 343.0,398.9 343.0,420.5 343.0,470.0 343.4,340.4 343.5,416.6 343.5,430.5 343.5,470.0 344.0,319.8 344.0,434.9 344.0,436.1 344.0,470.0 344.4,332.2 344.5,428.4 344.5,434.6 344.5,470.0 344.7,338.7 345.0,382.9 345.0,379.9 345.0,470.0 345.5,363.2 345.5,411.3 345.5,421.3 345.5,470.0 346.0,323.7 346.0,381.6 346.0,379.0 346.1,470.0 346.5,313.3 346.5,371.2 346.5,383.8 346.5,470.0 346.7,334.4 347.0,428.2 347.0,423.4 347.0,470.0 347.4,311.1 347.5,470.0 347.5,470.0 347.8,293.5 348.0,434.7 348.0,447.8 348.0,470.0 348.1,304.5 348.5,400.4 348.5,401.7 348.6,470.0 348.8,278.5 349.0,470.0 349.0,459.6 349.0,470.0 349.0,291.0 349.5,416.3 349.5,419.1 349.6,470.0 349.9,295.7 350.0,417.7 350.0,420.8 350.0,470.0 350.4,244.2 350.5,246.5 350.5,245.7 350.6,238.0 351.0,336.7 351.0,336.9 351.2,470.0 351.2,298.0 351.5,387.5 351.5,398.8 351.5,470.0 351.6,305.4 352.0,372.0 352.0,372.7 352.0,470.0 352.1,315.7 352.5,470.0 352.5,470.0 353.0,299.0 353.0,379.2 353.0,378.2 353.0,470.0 353.1,320.1 353.5,403.5 353.5,412.8 353.6,470.0 354.0,333.0 354.0,444.8 354.0,436.4 354.0,470.0 354.2,344.8 354.5,423.3 354.5,402.8 354.5,470.0 354.6,337.4 355.0,387.4 355.0,379.7 355.0,470.0 355.2,327.6 355.5,347.9 355.5,353.2 355.6,470.0 355.7,324.4 356.0,415.1 356.0,419.8 356.0,470.0 356.3,325.3 356.5,371.3 356.5,363.4 356.6,470.0 356.9,336.4 357.0,402.7 357.0,400.2 357.0,470.0 357.1,330.6 357.5,393.0 357.5,391.1 357.5,470.0 358.0,346.0 358.0,404.3 358.0,395.8 358.0,470.0 358.4,356.4 358.5,443.6 358.5,437.6 358.5,470.0 358.6,338.0 359.0,408.9 359.0,404.4 359.1,470.0 359.1,353.2 359.5,410.8 359.5,408.4 359.5,470.0 359.9,336.4 360.0,449.8 360.0,461.9 360.0,470.0 360.3,294.9 360.5,396.3 360.5,406.9 360.5,470.0 360.7,301.4 361.0,468.5 361.0,467.1 361.0,470.0 361.4,325.8 361.5,402.7 361.5,395.9 361.5,470.0 361.7,340.2 362.0,356.7 362.0,364.7 362.0,470.0 362.1,340.8 362.5,381.8 362.5,382.5 362.5,470.0 362.7,313.4 363.0,373.1 363.0,362.0 363.0,470.0 363.3,296.1 363.5,422.0 363.5,426.2 363.6,470.0 363.7,308.0 364.0,409.9 364.0,396.6 364.0,470.0 364.5,302.3 364.5,470.0 364.5,470.0 364.9,281.0 365.0,379.0 365.0,363.5 365.0,470.0 365.0,290.3 365.5,454.6 365.5,430.5 365.5,470.0 366.0,293.5 366.0,435.7 366.0,429.3 366.0,470.0 366.1,287.7 366.5,369.2 366.5,379.5 366.6,470.0 367.0,306.0 367.0,352.6 367.0,373.6 367.0,470.0 367.1,306.2 367.5,339.3 367.5,338.1 367.5,470.0 368.0,275.2 368.0,311.5 368.0,312.4 368.3,241.0 368.5,263.3 368.5,265.0 368.6,257.4 368.9,470.0 369.0,335.5 369.0,323.8 369.1,470.0 369.2,279.6 369.5,394.9 369.5,395.4 369.5,470.0 369.5,295.1 370.0,379.8 370.0,376.8 370.0,470.0 370.1,292.8 370.5,470.0 370.5,470.0 371.0,306.2 371.0,470.0 371.0,452.3 371.2,470.0 371.2,287.1 371.5,408.2 371.5,406.3 371.6,470.0 371.7,302.8 372.0,470.0 372.0,455.2 372.0,470.0 372.3,318.0 372.5,350.8 372.5,356.3 372.5,470.0 372.7,347.7 373.0,433.3 373.0,442.8 373.0,470.0 373.2,302.2 373.5,335.9 373.5,329.6 373.5,470.0 373.9,320.2 374.0,444.0 374.0,455.7 374.0,470.0 374.4,331.1 374.5,377.8 374.5,370.3 374.5,470.0 374.8,310.4 375.0,397.0 375.0,387.8 375.0,470.0 375.1,306.5 375.5,382.9 375.5,400.1 375.5,470.0 375.9,333.1 376.0,353.8 376.0,347.0 376.0,470.0 376.1,315.0 376.5,372.8 376.5,374.1 376.6,470.0 376.8,335.8 377.0,364.2 377.0,369.4 377.1,470.0 377.3,314.6 377.5,459.1 377.5,443.4 377.6,470.0 377.9,309.8 378.0,470.0 378.0,470.0 378.2,325.6 378.5,402.1 378.5,400.7 378.5,308.5 378.7,470.0 379.0,368.4 379.0,378.8 379.0,470.0 379.3,333.1 379.5,357.5 379.5,364.8 379.5,470.0 379.9,310.1 380.0,390.5 380.0,362.5 380.1,470.0 380.5,286.5 380.5,405.4 380.5,372.3 380.5,470.0 380.6,313.1 381.0,402.0 381.0,385.6 381.0,470.0 381.3,292.7 381.5,350.0 381.5,353.1 381.5,470.0 381.7,299.1 382.0,387.9 382.0,402.9 382.0,470.0 382.3,304.1 382.5,470.0 382.5,470.0 383.0,286.6 383.0,375.4 383.0,409.1 383.0,470.0 383.3,334.5 383.5,457.8 383.5,444.5 383.5,470.0 383.7,278.1 384.0,330.3 384.0,328.7 384.0,470.0 384.2,282.3 384.5,399.8 384.5,403.8 384.5,470.0 384.9,302.0 385.0,342.0 385.0,329.8 385.1,278.7 385.2,470.0 385.5,384.1 385.5,381.4 385.5,470.0 385.8,270.7 386.0,366.2 386.0,350.9 386.0,470.0 386.1,294.0 386.5,391.0 386.5,358.5 386.5,470.0 386.7,267.9 387.0,275.9 387.0,281.7 387.0,470.0 387.4,269.7 387.5,316.2 387.5,309.3 387.7,470.0 387.9,291.5 388.0,386.0 388.0,363.7 388.0,254.3 388.3,470.0 388.5,346.3 388.5,343.3 388.6,470.0 388.6,285.7 389.0,312.7 389.0,317.5 389.1,265.3 389.1,470.0 389.5,297.0 389.5,299.4 389.5,324.5 390.0,183.0 390.0,184.1 390.0,184.1 390.5,382.7 390.5,377.5 390.8,470.0 390.9,270.8 391.0,296.9 391.0,308.6 391.0,263.0 391.2,470.0 391.5,294.8 391.5,292.4 391.5,291.7 391.9,470.0 392.0,360.2 392.0,378.4 392.0,470.0 392.1,268.9 392.5,303.7 392.5,314.1 392.5,470.0 392.7,306.5 393.0,340.5 393.0,346.0 393.2,301.5 393.3,470.0 393.5,378.3 393.5,354.3 393.6,470.0 393.6,271.9 394.0,367.7 394.0,361.1 394.1,470.0 394.1,271.6 394.5,342.7 394.5,342.8 394.7,470.0 394.9,309.9 395.0,424.2 395.0,434.9 395.1,470.0 395.2,324.3 395.5,373.8 395.5,367.0 395.8,470.0 395.9,295.7 396.0,404.7 396.0,396.5 396.0,470.0 396.0,286.8 396.5,302.2 396.5,303.1 396.6,294.2 396.7,470.0 397.0,370.8 397.0,368.8 397.0,306.4 397.1,470.0 397.5,470.0 397.5,460.3 397.5,470.0 397.8,305.2 398.0,384.9 398.0,387.8 398.1,470.0 398.1,282.5 398.5,305.7 398.5,307.2 398.5,470.0 399.0,370.5 399.0,364.1 399.0,470.0 399.5,310.5 399.5,305.6 399.5,470.0 400.0,294.9 400.0,305.8 400.0,303.9 400.1,470.0 400.5,458.5 400.5,470.0 400.7,300.6 401.0,354.6 401.0,367.5 401.0,470.0 401.4,266.1 401.5,394.1 401.5,400.2 401.5,470.0 402.0,301.1 402.0,310.4 402.0,309.6 402.0,306.3 402.0,470.0 402.5,451.4 402.5,465.2 402.5,470.0 402.8,305.1 403.0,403.1 403.0,391.6 403.1,470.0 403.5,308.4 403.5,313.4 403.5,316.5 403.6,316.2 403.6,470.0 404.0,372.5 404.0,376.5 404.0,470.0 404.4,306.9 404.5,317.0 404.5,313.8 404.6,470.0 404.8,293.2 405.0,469.0 405.0,447.7 405.0,470.0 405.4,297.9 405.5,373.3 405.5,376.0 405.6,470.0 405.8,299.6 406.0,462.3 406.0,432.7 406.1,470.0 406.4,290.9 406.5,350.9 406.5,368.5 406.6,470.0 406.9,281.5 407.0,430.5 407.0,470.0 407.5,311.4 407.5,388.8 407.5,373.4 407.5,470.0 407.7,297.5 408.0,470.0 408.0,470.0 408.4,301.8 408.5,346.6 408.5,353.7 408.6,301.2 408.6,470.0 409.0,351.9 409.0,343.9 409.0,470.0 409.5,312.0 409.5,319.5 409.5,312.6 409.5,470.0 409.6,278.6 410.0,373.0 410.0,363.8 410.0,470.0 410.1,273.0 410.5,330.2 410.5,322.5 410.5,470.0 410.9,300.1 411.0,355.2 411.0,345.1 411.1,470.0 411.4,250.1 411.5,326.0 411.5,330.8 411.5,470.0 411.6,275.4 412.0,364.5 412.0,368.2 412.2,470.0 412.3,276.8 412.5,364.8 412.5,353.4 412.6,470.0 412.9,285.4 413.0,342.3 413.0,343.4 413.1,470.0 413.2,302.0 413.5,470.0 413.5,470.0 413.9,276.6 414.0,329.2 414.0,333.5 414.4,236.6 414.5,470.0 414.5,373.6 414.5,372.2 414.6,267.6 414.7,470.0 415.0,313.3 415.0,319.2 415.2,217.8 415.5,425.0 415.5,344.0 415.5,370.9 415.5,470.0 415.8,265.1 416.0,360.0 416.0,363.9 416.0,244.4 416.3,470.0 416.5,296.3 416.5,290.2 416.5,470.0 416.7,228.7 417.0,256.0 417.0,259.0 417.2,434.6 417.3,228.3 417.5,232.2 417.5,231.1 417.9,135.0 418.0,144.4 418.0,145.1 418.0,142.7 418.5,339.1 418.5,344.6 418.6,446.2 418.9,247.6 419.0,332.5 419.0,333.4 419.1,219.8 419.5,470.0 419.5,305.4 419.5,305.6 419.5,470.0 419.6,235.7 420.0,316.4 420.0,316.9 420.1,262.8 420.1,470.0 420.5,293.2 420.5,294.7 420.6,470.0 420.6,233.8 421.0,345.3 421.0,341.8 421.0,242.6 421.3,470.0 421.5,325.7 421.5,321.4 421.6,470.0 421.7,272.9 422.0,299.2 422.0,305.5 422.1,470.0 422.5,317.6 422.5,319.9 422.6,291.6 422.7,470.0 423.0,326.9 423.0,323.0 423.2,470.0 423.4,282.2 423.5,377.1 423.5,385.1 423.6,470.0 424.0,291.5 424.0,302.4 424.0,307.3 424.1,470.0 424.5,360.4 424.5,364.9 424.8,470.0 424.8,308.8 425.0,432.1 425.0,419.6 425.2,470.0 425.5,321.1 425.5,318.6 425.8,288.6 425.9,470.0 426.0,323.7 426.0,332.8 426.1,470.0 426.2,292.3 426.5,415.7 426.5,431.2 426.6,470.0 426.8,285.4 427.0,403.3 427.0,383.3 427.1,470.0 427.3,277.5 427.5,453.2 427.5,452.2 427.6,335.4 427.7,470.0 428.0,385.4 428.0,374.3 428.0,470.0 428.2,287.0 428.5,386.3 428.5,367.5 428.6,470.0 428.8,274.1 429.0,381.6 429.0,381.3 429.0,470.0 429.5,296.0 429.5,322.1 429.5,334.5 429.5,470.0 430.0,318.4 430.0,356.5 430.0,354.0 430.0,470.0 430.4,297.7 430.5,325.0 430.5,327.7 430.5,470.0 430.7,280.6 431.0,382.8 431.0,363.4 431.1,470.0 431.4,274.6 431.5,415.8 431.5,425.1 431.5,470.0 431.8,294.6 432.0,409.0 432.0,417.2 432.1,470.0 432.3,262.6 432.5,344.4 432.5,335.6 432.5,470.0 432.6,283.7 433.0,346.6 433.0,360.5 433.1,470.0 433.3,242.5 433.5,446.1 433.5,457.6 433.5,470.0 433.8,292.7 434.0,320.0 434.0,305.8 434.1,275.0 434.1,470.0 434.5,389.3 434.5,376.2 434.6,470.0 434.7,287.8 435.0,346.0 435.0,344.4 435.1,470.0 435.4,291.6 435.5,336.6 435.5,340.6 435.5,470.0 435.9,295.3 436.0,410.8 436.0,413.2 436.4,290.2 436.5,470.0 436.5,344.4 436.5,347.1 436.7,325.0 436.7,470.0 437.0,364.1 437.0,361.6 437.1,470.0 437.2,301.2 437.5,468.2 437.5,470.0 437.8,293.3 438.0,348.8 438.0,357.3 438.0,296.6 438.1,470.0 438.5,381.1 438.5,386.2 438.5,470.0 438.6,306.3 439.0,448.8 439.0,424.2 439.2,290.5 439.2,470.0 439.5,327.0 439.5,317.7 439.6,293.2 439.6,470.0 440.0,332.9 440.0,326.4 440.1,470.0 440.5,285.2 440.5,286.0 440.5,470.0 441.0,328.0 441.0,323.1 441.1,273.5 441.1,470.0 441.5,393.6 441.5,365.8 441.5,304.0 441.6,470.0 442.0,331.4 442.0,320.7 442.1,266.9 442.4,470.0 442.5,324.1 442.5,319.8 442.6,282.7 442.8,470.0 443.0,311.7 443.0,310.2 443.4,288.3 443.5,470.0 443.5,332.4 443.5,338.0 443.7,470.0 443.8,272.2 444.0,329.1 444.0,329.8 444.2,470.0 444.3,288.4 444.5,351.4 444.5,364.0 444.6,470.0 444.8,298.6 445.0,319.4 445.0,318.8 445.1,470.0 445.4,290.0 445.5,355.1 445.5,370.6 445.7,470.0 445.7,279.1 446.0,459.8 446.0,451.4 446.0,470.0 446.4,297.6 446.5,300.6 446.5,297.9 446.7,470.0 446.8,263.9 447.0,313.6 447.0,302.9 447.1,470.0 447.4,291.2 447.5,446.7 447.5,429.6 447.5,225.7 447.7,470.0 448.0,395.4 448.0,382.5 448.1,470.0 448.3,298.1 448.5,327.9 448.5,336.3 448.5,470.0 448.7,263.1 449.0,329.5 449.0,323.1 449.1,470.0 449.3,305.3 449.5,350.5 449.5,362.4 449.7,470.0 449.7,264.0 450.0,423.7 450.0,423.0 450.2,286.9 450.4,470.0 450.5,381.4 450.5,385.5 450.6,470.0 450.9,283.7 451.0,350.0 451.0,361.4 451.1,470.0 451.3,277.0 451.5,470.0 451.5,470.0 451.9,242.2 452.0,300.6 452.0,388.2 452.2,286.1 452.3,470.0 452.5,372.3 452.5,358.9 452.7,243.7 453.0,470.0 453.0,332.0 453.0,320.0 453.1,462.7 453.4,239.5 453.5,353.1 453.5,366.6 453.5,400.5 453.8,234.3 454.0,325.5 454.0,318.6 454.2,470.0 454.4,231.3 454.5,298.3 454.5,329.9 454.6,218.0 454.8,470.0 455.0,326.5 455.0,312.4 455.1,239.0 455.4,470.0 455.5,292.9 455.5,292.6 455.7,470.0 455.8,244.1 456.0,244.6 456.0,242.7 456.3,216.5 456.4,470.0 456.5,316.5 456.5,312.0 456.6,386.9 457.0,157.9 457.0,155.7 457.2,117.0 457.5,156.7 457.5,159.9 457.9,383.8 458.0,267.5 458.0,295.0 458.3,470.0 458.4,195.1 458.5,198.0 458.5,200.4 459.0,421.4 459.0,266.7 459.0,258.6 459.0,240.4 459.3,470.0 459.5,379.1 459.5,388.7 459.6,470.0 459.8,248.2 460.0,343.1 460.0,368.1 460.1,280.5 460.1,470.0 460.5,337.9 460.5,342.6 460.7,470.0 460.9,263.7 461.0,284.6 461.0,268.0 461.1,226.6 461.2,470.0 461.5,360.3 461.5,374.4 461.6,470.0 461.9,267.8 462.0,340.7 462.0,315.9 462.0,264.7 462.3,470.0 462.5,339.9 462.5,328.4 462.5,300.1 462.6,470.0 463.0,387.8 463.0,367.9 463.1,273.4 463.1,470.0 463.5,301.0 463.5,289.1 463.5,270.1 463.9,470.0 464.0,412.4 464.0,422.4 464.0,470.0 464.1,319.0 464.5,349.5 464.5,342.8 464.6,298.6 464.8,470.0 465.0,318.8 465.0,322.3 465.2,470.0 465.4,281.0 465.5,334.2 465.5,326.6 465.9,305.2 465.9,424.3 466.0,313.3 466.0,310.5 466.2,470.0 466.5,387.1 466.5,393.3 466.8,307.1 467.0,431.7 467.0,415.2 467.0,387.3 467.4,257.6 467.5,402.7 467.5,335.9 467.5,304.5 467.6,232.3 467.6,380.9 468.0,309.2 468.0,316.2 468.2,470.0 468.4,266.9 468.5,338.9 468.5,360.8 468.5,470.0 468.8,270.0 469.0,292.3 469.0,289.9 469.2,264.8 469.2,449.7 469.5,355.6 469.5,391.3 469.5,470.0 469.6,288.3 470.0,343.3 470.0,343.3 470.0,342.3 470.2,470.0 470.5,396.1 470.5,376.7 470.7,261.7 471.0,459.7 471.0,401.6 471.0,373.4 471.1,470.0 471.4,267.3 471.5,294.9 471.5,288.7 471.6,470.0 471.7,274.7 472.0,325.9 472.0,320.7 472.1,285.2 472.1,470.0 472.5,379.0 472.5,362.4 472.8,296.1 472.8,470.0 473.0,326.3 473.0,323.0 473.1,443.9 473.2,285.9 473.5,319.9 473.5,333.6 473.6,470.0 473.9,289.3 474.0,343.8 474.0,344.0 474.1,470.0 474.5,384.6 474.5,373.8 474.6,470.0 474.7,306.0 475.0,335.8 475.0,344.9 475.3,289.2 475.4,470.0 475.5,409.9 475.5,392.4 475.9,276.6 476.0,470.0 476.0,379.0 476.0,359.7 476.1,470.0 476.5,303.4 476.5,308.0 476.5,312.1 476.6,287.8 476.7,470.0 477.0,320.9 477.0,314.8 477.0,292.1 477.4,405.5 477.5,367.7 477.5,364.5 477.8,470.0 478.0,318.9 478.0,320.3 478.1,353.4 478.1,284.9 478.5,352.0 478.5,367.0 478.5,470.0 478.8,306.0 479.0,329.9 479.0,336.1 479.1,470.0 479.5,318.3 479.5,333.5 479.5,340.9 479.6,303.8 479.8,470.0 480.0,430.2 480.0,411.4 480.5,293.8 480.5,289.3 480.5,283.5 480.7,470.0 481.0,348.6 481.0,342.9 481.1,470.0 481.3,302.4 481.5,447.6 481.5,470.0 481.6,321.7 482.0,433.7 482.0,403.0 482.5,293.9 482.5,293.3 482.6,386.7 482.7,288.0 483.0,308.0 483.0,301.6 483.0,300.6 483.3,470.0 483.5,346.7 483.5,355.6 483.7,470.0 483.8,310.1 484.0,333.0 484.0,341.5 484.1,470.0 484.3,278.7 484.5,363.2 484.5,345.7 484.6,470.0 484.7,276.0 485.0,397.6 485.0,416.4 485.2,470.0 485.3,321.5 485.5,391.4 485.5,397.3 485.8,421.0 485.9,263.7 486.0,332.1 486.0,360.3 486.2,293.2 486.3,414.0 486.5,392.2 486.5,365.9 486.6,448.3 486.7,267.8 487.0,324.2 487.0,325.2 487.3,470.0 487.5,292.2 487.5,287.6 487.6,444.4 487.7,250.8 488.0,325.0 488.0,345.8 488.3,307.2 488.4,470.0 488.5,346.0 488.5,339.6 488.7,470.0 488.9,303.8 489.0,334.8 489.0,354.8 489.1,275.5 489.3,379.9 489.5,318.0 489.5,311.5 489.5,298.3 489.6,470.0 490.0,330.9 490.0,318.3 490.1,281.1 490.5,427.9 490.5,439.8 490.5,470.0 491.0,319.5 491.0,301.1 491.0,287.6 491.5,470.0 491.5,408.4 491.5,369.0 491.7,470.0 491.9,296.6 492.0,383.6 492.0,349.5 492.1,298.0 492.2,406.3 492.5,339.2 492.5,351.2 492.5,368.2 493.0,278.2 493.0,275.4 493.3,470.0 493.5,318.0 493.5,309.8 493.6,380.7 493.9,288.0 494.0,374.3 494.0,392.2 494.3,457.1 494.4,281.6 494.5,320.6 494.5,338.4 494.5,470.0 494.9,336.9 495.0,339.6 495.0,343.6 495.2,259.2 495.3,470.0 495.5,314.8 495.5,311.0 495.7,283.7 495.8,470.0 496.0,287.7 496.0,289.3 496.0,287.8 496.2,435.7 496.5,375.1 496.5,379.4 496.6,470.0 496.7,302.5 497.0,394.1 497.0,367.6 497.1,310.3 497.3,430.8 497.5,374.7 497.5,379.3 497.6,264.7 497.9,453.6 498.0,323.1 498.0,315.6 498.0,308.8 498.2,470.0 498.5,360.4 498.5,336.5 498.8,470.0 499.0,262.4 499.0,267.9 499.2,250.6 499.4,470.0 499.5,382.1 499.5,378.4 499.6,470.0 499.8,280.6 500.0,361.5 500.0,392.1 500.0,470.0 500.1,286.5 500.5,414.6 500.5,390.3 500.6,326.9 500.7,470.0 501.0,384.9 501.0,374.0 501.1,322.9 501.3,459.4 501.5,325.7 501.5,327.6 501.8,470.0 502.0,289.5 502.0,287.3 502.0,287.3 502.2,373.8 502.5,359.5 502.5,373.5 502.5,470.0 502.7,298.0 503.0,315.6 503.0,315.9 503.1,287.5 503.2,374.5 503.5,364.4 503.5,364.3 503.8,470.0 503.9,289.9 504.0,419.8 504.0,374.7 504.1,302.9 504.2,399.4 504.5,370.6 504.5,391.4 504.6,300.9 504.9,470.0 505.0,334.7 505.0,325.9 505.3,391.0 505.4,310.6 505.5,325.9 505.5,333.1 505.7,294.6 505.8,470.0 506.0,319.4 506.0,311.3 506.0,298.3 506.3,452.0 506.5,407.6 506.5,379.6 506.7,470.0 507.0,297.0 507.0,306.8 507.0,316.3 507.1,454.8 507.4,286.0 507.5,369.5 507.5,349.2 507.6,315.1 507.7,470.0 508.0,384.7 508.0,377.3 508.1,470.0 508.4,313.3 508.5,338.0 508.5,344.4 508.7,470.0 509.0,332.9 509.0,337.6 509.2,325.1 509.3,470.0 509.5,435.0 509.5,410.5 509.9,277.1 510.0,304.7 510.0,314.1 510.0,470.0 510.4,248.9 510.5,381.7 510.5,419.5 510.5,470.0 510.7,301.6 511.0,396.0 511.0,410.2 511.3,267.3 511.4,470.0 511.5,334.1 511.5,337.5 511.6,470.0 511.9,284.2 512.0,300.5 512.0,303.2 512.1,264.3 512.5,470.0 512.5,330.7 512.5,309.6 512.6,268.5 513.0,470.0 513.0,470.0 513.0,425.1 513.2,268.0 513.5,350.8 513.5,333.2 513.6,389.9 513.9,272.0 514.0,298.8 514.0,313.3 514.2,277.2 514.3,441.9 514.5,278.9 514.5,279.6 514.9,276.4 515.0,418.1 515.0,451.8 515.2,470.0 515.4,255.0 515.5,395.4 515.5,372.8 515.6,269.9 515.9,470.0 516.0,364.8 516.0,350.8 516.2,470.0 516.5,252.2 516.5,247.1 516.8,226.0 517.0,372.5 517.0,371.0 517.4,420.4 517.5,270.5 517.5,267.2 517.6,323.8 518.0,264.0 518.0,257.9 518.0,256.7 518.2,470.0 518.5,269.4 518.5,270.4 518.9,334.4 519.0,236.6 519.0,226.5 519.1,200.9 519.2,333.5 519.5,275.4 519.5,279.5 519.7,215.3 519.8,443.5 520.0,242.2 520.0,246.6 520.2,367.4 520.3,237.7 520.5,298.9 520.5,294.9 520.6,267.6 521.0,470.0 521.0,343.2 521.0,313.0 521.2,470.0 521.3,249.1 521.5,254.4 521.5,248.8 521.6,443.4 521.8,225.0 522.0,240.2 522.0,236.9 522.2,470.0 522.5,214.9 522.5,215.1 522.5,217.3 522.6,470.0 523.0,354.7 523.0,348.9 523.2,470.0 523.4,219.1 523.5,255.5 523.5,271.3 523.5,326.4 523.9,227.6 524.0,267.3 524.0,272.3 524.0,275.4 524.5,119.9 524.5,119.3 524.5,119.0 525.0,215.7 525.0,225.0 525.2,395.2 525.5,290.4 525.5,296.4 525.7,203.1 525.8,470.0 526.0,274.3 526.0,285.4 526.3,352.7 526.5,195.9 526.5,198.6 526.5,204.0 526.6,315.5 526.7,196.2 527.0,305.0 527.0,304.6 527.2,232.2 527.4,371.2 527.5,350.6 527.5,344.9 527.6,470.0 528.0,263.3 528.0,263.4 528.0,263.2 528.3,470.0 528.5,320.0 528.5,330.6 528.9,300.1 529.0,470.0 529.0,355.8 529.0,317.6 529.4,221.2 529.5,257.4 529.5,270.1 529.7,237.4 529.9,445.4 530.0,286.8 530.0,285.0 530.3,470.0 530.5,243.4 530.5,239.9 530.7,470.0 530.8,226.8 531.0,378.8 531.0,378.5 531.2,266.4 531.3,412.3 531.5,294.4 531.5,304.1 531.7,248.2 531.8,443.6 532.0,278.9 532.0,284.7 532.2,210.4 532.4,402.8 532.5,363.8 532.5,355.1 532.6,397.6 532.8,247.5 533.0,381.1 533.0,431.3 533.0,470.0 533.5,282.3 533.5,270.5 533.6,239.1 533.7,432.9 534.0,302.9 534.0,282.6 534.1,245.0 534.2,469.3 534.5,428.1 534.5,402.2 534.8,310.2 535.0,461.2 535.0,437.4 535.2,296.6 535.4,470.0 535.5,364.8 535.5,353.9 535.7,470.0 535.8,279.8 536.0,470.0 536.0,418.6 536.3,268.5 536.5,470.0 536.5,380.3 536.5,356.3 536.7,301.6 537.0,342.9 537.0,339.7 537.2,287.6 537.4,397.4 537.5,344.3 537.5,345.6 537.7,414.5 537.9,308.8 538.0,327.8 538.0,334.9 538.4,464.5 538.5,298.6 538.5,295.3 538.5,294.6 538.9,470.0 539.0,404.0 539.0,385.8 539.5,295.7 539.5,291.5 539.6,278.4 539.9,470.0 540.0,334.2 540.0,341.2 540.1,470.0 540.5,314.4 540.5,315.0 540.5,318.2 540.8,470.0 541.0,350.5 541.0,363.0 541.1,470.0 541.2,289.5 541.5,335.4 541.5,333.0 541.7,287.9 541.9,465.4 542.0,390.8 542.0,366.9 542.5,313.9 542.5,308.0 542.8,284.6 543.0,382.6 543.0,381.6 543.0,372.9 543.2,470.0 543.3,331.0 543.5,429.7 543.5,411.7 543.6,352.2 543.7,470.0 544.0,390.7 544.0,402.9 544.0,409.9 544.5,311.3 544.5,312.0 544.8,470.0 545.0,299.7 545.0,297.0 545.0,295.3 545.2,381.7 545.5,334.5 545.5,352.2 545.9,456.2 546.0,270.7 546.0,266.8 546.1,257.7 546.3,470.0 546.5,319.2 546.5,323.3 546.7,470.0 547.0,323.0 547.0,318.1 547.1,387.1 547.2,296.5 547.5,354.9 547.5,357.3 547.9,390.1 548.0,268.4 548.0,256.8 548.0,251.5 548.2,455.1 548.5,337.3 548.5,363.4 548.5,470.0 548.8,260.6 549.0,395.3 549.0,370.4 549.4,309.9 549.5,343.8 549.5,340.7 549.7,257.8 549.8,470.0 550.0,263.0 550.0,271.5 550.5,403.4 550.5,396.5 550.5,371.7 550.7,272.1 550.9,470.0 551.0,331.7 551.0,333.5 551.0,331.4 551.4,385.8 551.5,355.7 551.5,348.3 551.7,470.0 551.9,311.9 552.0,364.8 552.0,395.1 552.1,470.0 552.2,340.7 552.5,372.7 552.5,375.5 552.6,386.0 552.8,323.2 553.0,354.7 553.0,353.3 553.0,355.9 553.3,262.5 553.5,286.2 553.5,288.8 553.9,407.6 554.0,364.0 554.0,345.0 554.1,313.1 554.2,470.0 554.5,334.8 554.5,339.7 554.8,255.7 555.0,446.0 555.0,470.0 555.2,284.8 555.5,344.8 555.5,324.9 555.6,285.5 556.0,423.4 556.0,395.3 556.0,372.1 556.2,291.0 556.5,296.2 556.5,300.6 556.7,470.0 557.0,353.2 557.0,343.1 557.1,327.0 557.5,374.5 557.5,375.0 557.7,438.0 557.9,286.2 558.0,361.6 558.0,411.4 558.0,470.0 558.2,303.1 558.5,308.4 558.5,306.2 558.5,305.6 558.9,419.5 559.0,369.3 559.0,367.4 559.4,393.1 559.5,318.0 559.5,311.5 559.8,305.3 560.0,391.9 560.0,386.1 560.0,369.1 560.2,442.4 560.4,341.3 560.5,394.4 560.5,422.9 560.6,470.0 560.8,329.4 561.0,369.5 561.0,371.7 561.2,353.0 561.4,470.0 561.5,410.7 561.5,395.0 561.7,404.8 561.9,325.7 562.0,376.1 562.0,406.3 562.1,470.0 562.3,335.2 562.5,418.3 562.5,448.5 562.5,466.2 562.8,329.3 563.0,349.2 563.0,362.8 563.1,470.0 563.5,340.5 563.5,333.9 563.6,328.0 563.8,470.0 564.0,436.8 564.0,432.5 564.4,310.7 564.5,325.5 564.5,333.5 564.7,470.0 565.0,352.2 565.0,331.4 565.1,318.0 565.4,391.9 565.5,348.1 565.5,348.2 565.6,364.0 565.8,266.8 566.0,344.9 566.0,367.1 566.2,298.5 566.4,461.8 566.5,331.4 566.5,320.3 566.6,298.0 566.9,470.0 567.0,376.3 567.0,372.4 567.1,411.7 567.5,295.6 567.5,290.6 567.7,263.7 568.0,445.8 568.0,447.3 568.2,470.0 568.5,352.7 568.5,353.5 568.5,354.7 568.5,356.4 568.8,309.5 569.0,325.5 569.0,327.4 569.5,365.9 569.5,370.0 569.6,393.6 570.0,371.9 570.0,364.2 570.5,302.8 570.5,304.1 570.5,306.8 571.0,368.3 571.0,369.4 571.2,282.0 571.5,330.5 571.5,317.7 571.6,279.7 571.9,339.3 572.0,333.8 572.0,331.5 572.2,331.7 572.5,296.5 572.5,296.5 572.5,297.7 572.7,470.0 573.0,339.7 573.0,341.6 573.2,384.1 573.5,306.8 573.5,306.9 573.7,319.2 573.9,301.9 574.0,309.0 574.0,311.6 574.2,400.3 574.5,353.6 574.5,343.5 574.6,308.5 574.9,470.0 575.0,470.0 575.0,470.0 575.5,333.1 575.5,325.6 575.6,310.3 575.9,408.9 576.0,354.5 576.0,362.0 576.2,470.0 576.5,459.2 576.5,433.9 577.0,299.9 577.0,300.4 577.0,300.3 577.5,367.8 577.5,383.8 577.6,440.9 578.0,285.5 578.0,285.0 578.4,338.1 578.5,325.9 578.5,324.4 578.7,332.3 578.9,282.0 579.0,284.7 579.0,294.0 579.2,470.0 579.5,321.0 579.5,327.9 579.9,377.4 580.0,359.8 580.0,347.7 580.2,309.5 580.5,318.8 580.5,313.9 580.8,392.6 581.0,297.9 581.0,288.1 581.0,287.0 581.3,470.0 581.5,398.6 581.5,424.2 581.5,457.5 581.8,291.5 582.0,369.1 582.0,409.8 582.0,470.0 582.3,313.6 582.5,320.0 582.5,323.0 582.7,352.9 582.9,311.1 583.0,324.9 583.0,335.5 583.1,360.3 583.4,288.2 583.5,295.5 583.5,297.2 583.7,294.7 583.9,375.5 584.0,308.4 584.0,292.5 584.1,270.0 584.3,342.3 584.5,284.2 584.5,280.1 584.8,378.5 585.0,268.2 585.0,271.5 585.2,381.1 585.5,285.3 585.5,283.4 585.5,282.9 585.8,440.9 586.0,346.6 586.0,340.7 586.1,336.7 586.5,401.7 586.5,401.3 586.8,331.8 587.0,470.0 587.0,470.0 587.3,308.2 587.5,374.5 587.5,388.3 587.6,390.7 587.7,333.9 588.0,361.2 588.0,360.1 588.1,374.4 588.4,283.7 588.5,289.9 588.5,295.0 589.0,445.2 589.0,470.0 589.5,309.5 589.5,308.4 589.7,407.1 590.0,290.8 590.0,295.1 590.4,470.0 590.5,345.9 590.5,329.4 590.6,305.4 590.8,470.0 591.0,332.8 591.0,323.5 591.1,319.9 591.3,409.5 591.5,354.1 591.5,347.7 591.8,302.0 592.0,369.3 592.0,390.7 592.1,426.0 592.4,311.8 592.5,312.2 592.5,313.3 592.9,338.8 593.0,324.0 593.0,319.2 593.3,470.0 593.5,291.1 593.5,284.6 593.6,279.1 593.8,470.0 594.0,309.0 594.0,303.2 594.1,298.2 594.5,333.2 594.5,342.7 594.8,470.0 595.0,345.5 595.0,338.7 595.2,376.0 595.5,298.5 595.5,300.6 595.7,470.0 596.0,274.2 596.0,275.1 596.0,281.8 596.5,375.0 596.5,378.9 596.7,333.1 597.0,342.1 597.0,332.3 597.1,325.2 597.5,391.7 597.5,390.3 597.5,385.5 597.9,405.3 598.0,364.0 598.0,348.9 598.5,299.6 598.5,300.5 598.5,303.4 598.7,441.0 599.0,260.6 599.0,260.2 599.0,259.8 599.4,470.0 599.5,321.7 599.5,303.9 599.7,263.4 600.0,347.9 600.0,357.7 600.2,274.4 600.5,331.7 600.5,330.7 600.8,274.5 601.0,322.6 601.0,347.1 601.1,374.3 601.5,319.5 601.5,312.3 601.7,292.9 602.0,434.7 602.0,409.2 602.0,373.9 602.2,316.2 602.4,402.0 602.5,378.0 602.5,359.6 603.0,314.4 603.0,315.0 603.3,391.2 603.5,284.6 603.5,280.4 603.6,277.9 603.9,386.7 604.0,340.7 604.0,336.0 604.2,357.3 604.5,302.5 604.5,300.9 604.8,328.3 605.0,300.9 605.0,303.0 605.3,379.4 605.5,343.5 605.5,338.8 605.6,333.1 606.0,368.0 606.0,376.5 606.2,470.0 606.5,304.2 606.5,298.0 606.6,286.1 606.9,391.3 607.0,380.2 607.0,349.9 607.3,274.7 607.5,322.5 607.5,335.9 607.6,349.8 607.8,312.0 608.0,325.9 608.0,331.0 608.2,372.2 608.5,318.7 608.5,313.8 608.6,307.5 609.0,366.7 609.0,362.5 609.3,343.5 609.5,377.4 609.5,392.6 609.6,403.7 610.0,291.5 610.0,292.4 610.0,296.1 610.5,429.7 610.5,448.5 610.6,470.0 611.0,380.3 611.0,371.1 611.2,332.8 611.5,445.7 611.5,470.0 611.8,321.4 612.0,350.1 612.0,350.0 612.1,416.8 612.4,345.6 612.5,367.7 612.5,385.0 612.6,421.6 612.8,324.0 613.0,348.4 613.0,361.7 613.1,370.3 613.4,292.9 613.5,297.7 613.5,302.7 613.7,351.3 614.0,334.1 614.0,332.4 614.3,300.0 614.5,312.5 614.5,320.2 614.6,344.7 614.9,293.2 615.0,293.7 615.0,289.3 615.3,470.0 615.5,326.8 615.5,319.8 615.7,308.3 616.0,355.0 616.0,376.6 616.1,411.2 616.5,289.1 616.5,287.2 616.6,285.5 617.0,315.5 617.0,328.7 617.5,455.8 617.5,470.0 618.0,301.9 618.0,306.7 618.3,366.2 618.5,319.6 618.5,310.3 618.7,292.4 619.0,344.6 619.0,357.9 619.1,358.2 619.3,322.2 619.5,336.5 619.5,343.4 619.6,353.6 620.0,296.2 620.0,290.8 620.5,375.5 620.5,372.1 620.8,324.2 621.0,335.6 621.0,343.2 621.3,470.0 621.5,420.8 621.5,422.5 621.6,433.9 622.0,319.5 622.0,314.7 622.1,309.2 622.5,355.1 622.5,359.9 622.6,361.8 623.0,331.7 623.0,332.7 623.0,333.3 623.3,362.1 623.5,356.3 623.5,355.6 623.9,396.3 624.0,377.0 624.0,366.9 624.3,440.5 624.5,320.4 624.5,306.4 624.8,262.7 625.0,269.8 625.0,270.5 625.5,353.9 625.5,357.3 625.9,410.8 626.0,383.3 626.0,375.1 626.5,321.2 626.5,315.7 626.8,290.7 627.0,309.2 627.0,323.7 627.2,448.9 627.5,292.9 627.5,293.8 627.8,337.8 628.0,289.6 628.0,288.6 628.2,276.8 628.5,318.9 628.5,326.0 629.0,362.3 629.0,372.2 629.1,373.1 629.5,317.1 629.5,316.8 630.0,371.8 630.0,382.4 630.2,470.0 630.5,361.8 630.5,349.1 630.9,306.2 631.0,308.6 631.0,317.2 631.5,355.2 631.5,361.2 631.8,444.4 632.0,389.6 632.0,375.7 632.5,325.7 632.5,323.6 632.6,322.6 633.0,346.7 633.0,356.9 633.4,449.1 633.5,401.7 633.5,377.4 633.8,326.9 634.0,344.6 634.0,349.8 634.4,304.1 634.5,307.1 634.5,311.4 634.8,470.0 635.0,365.8 635.0,337.7 635.3,298.1 635.5,306.6 635.5,312.7 635.8,432.6 636.0,336.6 636.0,324.6 636.1,311.7 636.5,370.2 636.5,378.7 636.7,362.9 637.0,408.6 637.0,451.0 637.1,470.0 637.5,358.3 637.5,357.9 637.9,426.3 638.0,413.4 638.0,390.1 638.4,316.2 638.5,316.8 638.5,318.7 639.0,388.5 639.0,393.7 639.2,450.2 639.5,341.2 639.5,341.2 639.7,399.4 640.0,316.2 640.0,315.3 640.2,295.2 640.5,314.9 640.5,319.5 640.6,321.5 641.0,281.3 641.0,284.5 641.1,283.4 641.5,302.2 641.5,308.4 641.9,434.0 642.0,382.1 642.0,359.0 642.4,326.5 642.5,327.0 642.5,328.4 642.9,470.0 643.0,436.5 643.0,379.5 643.5,280.6 643.5,278.8 643.6,277.6 644.0,315.9 644.0,333.4 644.2,416.3 644.5,293.0 644.5,292.8 644.9,470.0 645.0,347.3 645.0,320.3 645.3,272.3 645.5,287.8 645.5,297.5 645.8,451.6 646.0,337.8 646.0,326.2 646.2,318.8 646.5,345.4 646.5,352.1 646.8,413.4 647.0,348.5 647.0,335.4 647.3,306.8 647.5,319.3 647.5,328.4 647.8,414.4 648.0,348.0 648.0,345.5 648.1,342.8 648.4,413.0 648.5,393.5 648.5,369.1 648.9,303.4 649.0,304.6 649.0,309.1 649.3,323.8 649.5,306.2 649.5,301.5 649.7,294.2 650.0,317.4 650.0,321.1 650.3,372.7 650.5,350.8 650.5,345.8 651.0,300.8 651.0,298.8 651.1,296.5 651.4,327.7 651.5,341.1 651.7,392.7 652.0,325.2 652.0,314.0 652.3,303.3 652.5,309.0 652.5,313.2 652.9,460.1 653.0,356.2 653.0,325.1 653.5,267.6 653.5,267.7 654.0,291.2 654.0,293.6 654.5,305.5 654.5,312.0 654.8,386.7 655.0,326.5 655.0,316.0 655.3,287.7 655.5,292.8 655.5,297.8 655.8,329.7 656.0,314.6 656.0,307.0 656.2,298.3 656.5,324.7 656.5,326.1 657.0,274.9 657.0,269.0 657.1,268.3 657.5,277.2 657.5,277.7 657.7,277.5 658.0,286.4 658.0,290.5 658.5,338.7 658.5,339.6 659.0,288.0 659.0,287.6 659.2,275.6 659.4,284.3 659.5,290.5 659.9,470.0 660.0,417.0 660.0,371.7 660.5,313.7 660.5,312.1 660.8,299.9 661.0,302.1 661.0,297.8 661.4,351.9 661.5,327.3 661.5,312.1 661.9,269.2 662.0,270.2 662.0,276.0 662.5,432.2 662.6,382.1 663.0,276.5 663.0,281.3 663.1,280.2 663.5,318.7 663.5,333.1 663.7,367.7 663.9,313.7 664.0,307.2 664.3,288.9 664.5,292.4 664.5,295.7 665.0,403.0 665.1,442.9 665.5,301.1 665.5,293.4 665.9,272.9 665.9,273.3 666.0,268.4 666.5,394.4 666.5,470.0 667.0,276.4 667.0,266.3 667.1,265.8 667.4,304.5 667.5,308.9 668.0,250.3 668.0,255.4 668.5,323.7 668.5,362.3 668.6,465.4 669.0,276.9 669.0,277.7 669.1,273.0 669.5,287.5 669.5,294.0 669.9,355.4 670.0,365.2 670.3,394.2 670.4,382.8 670.5,374.2 670.9,336.2 671.0,333.3 671.4,325.2 671.5,323.3 672.0,301.0 672.0,298.3 672.5,279.5 672.5,279.0 673.0,313.0 673.0,331.0 673.2,422.9 673.5,316.2 673.5,304.4 673.8,286.0 674.0,296.3 674.1,306.4 674.3,354.0 674.5,323.1 674.5,306.8 674.9,268.2 675.0,269.2 675.0,267.5 675.5,359.5 675.6,348.9 676.0,286.6 676.0,286.2 676.5,402.1 676.5,377.6 676.9,301.9 677.0,312.9 677.3,451.0 677.5,375.0 677.5,342.5 678.0,288.2 678.0,289.9 678.5,364.2 678.6,378.8 678.6,380.2 679.0,346.3 679.0,345.5 679.4,373.3 679.4,371.4 679.5,365.9 680.0,338.3 680.1,339.6 680.5,316.6 680.5,315.6 681.0,349.9 681.0,361.1 681.2,390.0 681.4,367.6 681.5,365.9 681.9,470.0 681.9,413.0 682.0,366.6 682.5,277.1 682.6,275.1 682.6,274.8 683.0,303.9 683.1,317.0 683.3,404.6 683.5,339.0 683.6,322.4 683.9,294.9 684.0,296.1 684.1,302.4 684.5,379.4 684.6,420.2 684.6,470.0 685.0,329.1 685.1,321.9 685.4,306.8 685.4,307.0 685.5,308.7 685.9,366.4 686.0,394.0 686.2,469.7 686.5,333.3 686.5,322.4 686.8,303.8 687.0,305.7 687.0,313.8 687.5,403.5 687.6,449.9 687.6,462.5 687.9,366.9 688.0,367.4 688.5,470.0 688.5,438.4 689.0,315.0 689.1,308.4 689.3,302.4 689.4,306.9 689.5,311.9 690.0,400.5 690.0,407.0 690.4,340.1 690.5,335.5 690.6,333.4 691.0,360.9 691.0,382.4 691.3,470.0 691.4,414.1 691.5,388.4 692.0,343.6 692.0,339.7 692.4,380.9 692.5,392.3 692.6,395.9 693.0,341.3 693.1,331.1 693.3,324.4 693.5,330.4 693.5,336.9 693.8,377.5 693.9,376.1 694.0,366.0 694.5,315.0 694.6,314.6 695.0,353.7 695.0,377.4 695.2,426.5 695.4,362.1 695.5,347.7 695.8,329.4 695.9,332.3 696.0,340.0 696.3,360.3 696.4,349.0 696.5,336.5 697.0,288.0 697.1,285.4 697.2,284.7 697.5,292.8 697.6,296.7 698.0,312.2 698.1,316.7 698.4,319.8 698.5,319.7 698.6,318.8 699.0,301.9 699.1,298.8 699.3,294.1 699.5,298.3 699.6,303.3 700.0,383.5 700.1,402.9 700.5,304.6 700.6,294.6 700.8,280.8 700.9,280.9 701.0,283.4 701.4,349.1 701.5,387.8 701.6,437.9 701.9,303.9 702.0,281.5 702.5,248.9 702.5,248.0 703.0,265.6 703.1,274.9 703.4,326.4 703.5,343.8 703.8,370.7 703.9,352.8 704.0,346.0 704.5,312.3 704.6,306.9 704.9,289.1 705.0,282.0 705.2,280.3 705.5,290.0 705.5,297.5 706.0,403.3 706.1,382.1 706.4,315.0 706.5,308.0 706.9,298.1 707.0,299.2 707.1,311.4 707.4,330.3 707.5,335.9 707.7,342.6 708.0,332.2 708.1,324.2 708.4,298.0 708.5,293.4 709.0,282.8 709.1,280.0 709.5,286.5 709.6,289.0 709.9,296.2 710.0,289.9 710.5,277.1 710.6,273.7 711.0,263.8 711.1,259.2 711.2,258.5 711.4,260.2 711.5,262.0 711.9,274.3 712.0,279.0 712.5,295.3 712.6,295.8 713.0,287.3 713.1,285.6 713.5,274.5 713.5,272.7 713.8,270.3 713.9,270.4 714.0,267.6 714.4,273.9 714.5,276.3 714.9,288.6 715.0,284.2 715.4,300.0 715.5,304.4 715.9,324.2 716.0,331.7 716.4,354.1 716.5,358.4 716.7,362.2 716.9,358.3 717.0,362.2 717.4,339.5 717.5,333.6 717.9,311.8 718.0,313.6 718.4,294.7 718.5,293.8 718.9,336.9 719.0,351.0 719.5,443.1 719.6,470.0 720.0,470.0 720.0,470.0 720.1,470.0 720.2,439.9 720.3,404.7 720.4,380.1 720.5,361.3 720.6,346.3 720.7,334.0 720.8,323.7 720.9,314.9 721.0,307.4 721.1,301.1 721.2,295.6 721.3,291.0 721.4,287.1 721.5,284.0 721.6,281.4 721.7,279.5 721.8,278.1 721.9,277.3 722.0,277.0 722.1,277.5 722.2,279.0 722.3,281.5 722.4,285.1 722.5,289.7 722.6,295.6 722.7,302.9 722.8,311.5 722.9,321.6 723.0,333.3 723.1,346.2 723.2,359.2 723.3,369.7 723.4,374.0 723.5,366.5 723.6,349.8 723.7,331.6 723.8,315.2 723.9,301.1 724.0,289.3 724.1,279.4 724.2,271.1 724.3,264.3 724.4,258.8 724.5,254.5 724.6,251.2 724.7,248.8 724.8,247.5 724.9,247.0 725.0,247.4 725.1,248.7 725.2,250.9 725.3,253.9 725.4,257.9 725.5,262.9 725.6,269.0 725.7,276.2 725.8,284.7 725.9,294.3 726.0,305.2 726.1,316.7 726.2,327.9 726.3,336.6 726.4,340.0 726.5,337.6 726.6,331.3 726.7,322.7 726.8,313.4 726.9,304.2 727.0,295.7 727.1,288.1 727.2,281.5 727.3,275.9 727.4,271.3 727.5,267.5 727.6,264.6 727.7,262.6 727.8,261.4 727.9,261.0 728.0,261.7 728.1,263.6 728.2,267.0 728.3,271.8 728.4,278.1 728.5,286.1 728.5,295.9 728.6,307.5 728.7,320.8 728.8,334.6 728.9,346.2 729.0,351.0 729.1,349.7 729.2,345.9 729.3,340.4 729.4,333.9 729.5,327.0 729.6,320.3 729.7,313.9 729.8,308.1 729.8,302.8 729.9,298.2 730.0,294.3 730.1,290.9 730.2,288.2 730.3,286.2 730.4,284.7 730.5,283.8 730.6,283.5 730.7,283.7 730.8,284.4 730.9,285.5 731.0,287.1 731.1,289.1 731.2,291.6 731.3,294.6 731.4,298.1 731.5,302.2 731.6,306.7 731.7,311.8 731.8,317.3 731.9,323.4 732.0,329.8 732.1,336.5 732.2,343.1 732.3,349.2 732.4,354.3 732.5,357.8 732.6,359.0 732.7,358.5 732.8,357.2 732.9,355.1 733.0,352.4 733.1,349.4 733.2,346.0 733.3,342.6 733.4,339.2 733.5,336.0 733.6,333.0 733.7,330.3 733.8,327.9 733.9,325.8 734.0,324.1 734.1,322.7 734.2,321.8 734.3,321.2 734.4,321.0 734.5,321.3 734.6,322.3 734.7,324.0 734.8,326.4 734.9,329.4 735.0,333.3 735.1,337.9 735.2,343.4 735.2,349.8 735.3,357.1 735.4,365.4 735.5,374.6 735.6,384.6 735.7,394.8 735.8,404.3 735.9,411.3 736.0,414.0 736.1,407.8 736.2,393.4 736.3,377.2 736.4,362.2 736.5,349.3 736.6,338.4 736.7,329.5 736.8,322.3 736.9,316.6 737.0,312.4 737.1,309.4 737.2,307.6 737.3,307.0 737.4,307.3 737.5,308.2 737.6,309.7 737.7,311.9 737.8,314.7 737.9,318.3 738.0,322.5 738.1,327.5 738.1,333.4 738.2,340.2 738.3,348.0 738.4,356.8 738.5,366.6 738.6,377.3 738.7,388.5 738.8,399.0 738.9,407.0 739.0,410.0 739.1,398.8 739.2,376.8 739.3,355.8 739.4,338.6 739.5,325.1 739.6,314.8 739.7,307.3 739.8,302.0 739.9,299.0 740.0,298.0 740.1,298.3 740.2,299.1 740.3,300.5 740.4,302.4 740.5,305.0 740.6,308.1 740.7,312.0 740.8,316.6 740.9,322.1 741.0,328.4 741.1,335.9 741.2,344.7 741.3,355.0 741.4,367.3 741.5,382.3 741.6,401.1 741.7,425.7 741.8,460.9 741.9,470.0 742.0,470.0 742.1,470.0 742.2,470.0 742.3,466.8 742.4,442.0 742.5,423.1 742.6,407.8 742.7,395.2 742.8,384.5 742.9,375.3 743.0,367.4 743.1,360.5 743.1,354.5 743.2,349.3 743.3,344.8 743.4,340.8 743.5,337.4 743.6,334.6 743.7,332.2 743.8,330.3 743.9,328.9 744.0,327.8 744.1,327.2 744.2,327.0 744.3,327.6 744.4,329.2 744.5,332.1 744.6,336.2 744.7,341.6 744.8,348.6 744.9,357.4 745.0,368.5 745.1,382.4 745.2,400.3 745.3,424.3 745.4,459.0 745.5,470.0 745.6,470.0 745.7,470.0 745.8,470.0 745.9,470.0 746.0,470.0 746.1,464.7 746.2,449.3 746.3,436.6 746.4,425.9 746.5,416.6 746.6,408.6 746.7,401.6 746.8,395.4 746.9,390.0 747.0,385.3 747.1,381.2 747.2,377.6 747.3,374.6 747.4,372.0 747.5,369.8 747.6,368.0 747.7,366.7 747.8,365.8 747.9,365.2 748.0,365.0 748.1,365.1 748.2,365.5 748.3,366.1 748.4,366.9 748.5,368.0 748.6,369.4 748.7,371.0 748.8,372.9 748.9,375.1 749.0,377.6 749.1,380.4 749.2,383.6 749.3,387.1 749.4,391.1 749.5,395.4 749.6,400.3 749.7,405.7 749.8,411.7 749.9,418.4 750.0,425.9 750.1,434.3 750.2,444.0 750.3,455.1 750.4,468.1 750.5,470.0 750.6,470.0 750.7,470.0 750.8,470.0 750.9,470.0 751.0,470.0 751.1,470.0 751.2,470.0 751.3,455.7 751.4,431.1 751.5,412.3 751.6,397.3 751.7,385.0 751.8,374.7 751.9,365.9 752.0,358.4 752.1,352.1 752.2,346.6 752.3,342.0 752.4,338.1 752.5,335.0 752.6,332.4 752.7,330.5 752.8,329.1 752.9,328.3 753.0,328.0 753.1,328.3 753.2,329.1 753.3,330.5 753.4,332.4 753.5,335.0 753.6,338.1 753.7,342.0 753.8,346.6 753.9,352.1 754.0,358.4 754.1,365.9 754.2,374.7 754.3,385.0 754.4,397.3 754.5,412.3 754.6,431.1 754.7,455.7 754.8,470.0 754.9,470.0 755.0,470.0 755.1,470.0 755.2,437.7 755.3,402.7 755.4,378.2 755.5,359.6 755.6,344.9 755.7,332.8 755.8,322.8 755.9,314.4 756.0,307.4 756.1,301.5 756.2,296.6 756.3,292.6 756.4,289.5 756.5,287.0 756.6,285.3 756.7,284.3 756.8,284.0 756.9,284.2 757.0,285.0 757.1,286.2 757.2,287.9 757.3,290.0 757.4,292.7 757.5,296.0 757.6,299.7 757.7,304.0 757.7,308.8 757.8,314.1 757.9,319.9 758.0,326.1 758.1,332.5 758.2,338.8 758.3,344.7 758.4,349.6 758.5,352.8 758.6,354.0 758.7,353.5 758.8,351.9 758.9,349.4 759.0,346.3 759.1,342.6 759.2,338.7 759.3,334.6 759.4,330.5 759.5,326.5 759.6,322.7 759.7,319.2 759.7,315.9 759.8,312.9 759.9,310.2 760.0,307.8 760.1,305.7 760.2,304.0 760.3,302.5 760.4,301.4 760.5,300.6 760.6,300.2 760.7,300.0 760.8,300.2 760.9,300.8 761.0,301.9 761.1,303.3 761.2,305.2 761.3,307.6 761.4,310.4 761.5,313.8 761.6,317.8 761.7,322.3 761.8,327.5 761.9,333.5 762.0,340.4 762.1,348.3 762.2,357.5 762.3,368.2 762.4,380.8 762.5,396.1 762.6,415.0 762.7,439.8 762.8,470.0 762.9,470.0 763.0,470.0 763.1,470.0 763.2,451.6 763.3,416.3 763.4,391.5 763.5,372.6 763.6,357.3 763.7,344.7 763.8,334.0 763.9,324.8 764.0,316.9 764.1,310.0 764.1,304.0 764.2,298.8 764.3,294.3 764.4,290.3 764.5,286.9 764.6,284.1 764.7,281.7 764.8,279.8 764.9,278.4 765.0,277.3 765.1,276.7 765.2,276.5 765.3,276.8 765.4,277.8 765.5,279.5 765.6,282.0 765.7,285.1 765.8,289.1 765.9,294.0 766.0,299.9 766.1,306.9 766.2,315.3 766.3,325.3 766.4,337.4 766.5,352.1 766.6,370.7 766.7,395.2 766.8,430.2 766.9,470.0 767.0,470.0 767.1,466.0 767.2,405.3 767.3,370.0 767.4,345.2 767.5,326.2 767.6,310.8 767.7,298.1 767.8,287.4 767.9,278.1 768.0,270.1 768.1,263.1 768.2,256.9 768.3,251.5 768.4,246.8 768.5,242.7 768.6,239.1 768.7,236.1 768.8,233.5 768.9,231.3 769.0,229.5 769.1,228.2 769.2,227.3 769.3,226.7 769.4,226.5 769.5,226.8 769.6,227.9 769.7,229.6 769.8,232.1 769.9,235.3 770.0,239.3 770.1,244.2 770.2,250.0 770.2,256.8 770.3,264.8 770.4,273.9 770.5,284.3 770.6,295.9 770.7,308.4 770.8,320.6 770.9,330.2 771.0,334.0 771.1,331.3 771.2,324.3 771.3,314.7 771.4,304.2 771.5,293.8 771.6,284.0 771.7,275.1 771.8,266.9 771.9,259.6 772.0,253.0 772.1,247.2 772.1,241.9 772.2,237.3 772.3,233.3 772.4,229.7 772.5,226.6 772.6,224.0 772.7,221.8 772.8,220.1 772.9,218.7 773.0,217.8 773.1,217.2 773.2,217.0 773.3,217.2 773.4,217.8 773.5,218.8 773.6,220.3 773.7,222.2 773.8,224.5 773.9,227.3 774.0,230.6 774.1,234.3 774.2,238.7 774.3,243.6 774.4,249.1 774.5,255.3 774.6,262.2 774.7,269.8 774.8,278.2 774.9,287.1 775.0,296.5 775.1,305.7 775.2,314.0 775.3,319.8 775.4,322.0 775.5,320.5 775.6,316.2 775.7,310.1 775.8,302.9 775.9,295.3 776.0,287.9 776.1,280.9 776.2,274.4 776.3,268.6 776.3,263.3 776.4,258.7 776.5,254.7 776.6,251.2 776.7,248.4 776.8,246.1 776.9,244.3 777.0,243.0 777.1,242.3 777.2,242.0 777.3,242.2 777.4,242.7 777.5,243.5 777.6,244.7 777.7,246.2 777.8,248.1 777.9,250.3 778.0,253.0 778.1,256.0 778.2,259.5 778.3,263.3 778.4,267.7 778.5,272.5 778.6,277.8 778.7,283.6 778.8,289.9 778.9,296.6 779.0,303.8 779.1,311.3 779.2,318.7 779.3,325.7 779.4,331.6 779.5,335.6 779.6,337.0 779.7,335.6 779.8,331.8 779.9,326.1 780.0,319.3 780.1,312.1 780.2,304.9 780.3,297.9 780.4,291.4 780.5,285.3 780.6,279.8 780.7,274.8 780.8,270.3 780.9,266.3 781.0,262.7 781.1,259.7 781.2,257.1 781.3,254.9 781.4,253.1 781.5,251.7 781.6,250.8 781.7,250.2 781.8,250.0 781.9,250.1 782.0,250.6 782.1,251.3 782.2,252.2 782.3,253.5 782.4,255.1 782.5,256.9 782.6,259.0 782.7,261.5 782.8,264.2 782.9,267.2 783.0,270.5 783.0,274.0 783.1,277.8 783.2,281.8 783.3,285.9 783.4,290.2 783.5,294.4 783.6,298.4 783.7,302.2 783.8,305.4 783.9,307.9 784.0,309.5 784.1,310.0 784.2,309.7 784.3,308.7 784.4,307.2 784.5,305.2 784.6,302.7 784.7,300.0 784.8,297.2 784.9,294.2 785.0,291.2 785.1,288.3 785.2,285.5 785.3,282.8 785.4,280.4 785.5,278.1 785.6,276.0 785.7,274.1 785.8,272.5 785.9,271.1 786.0,270.0 786.1,269.1 786.2,268.5 786.3,268.1 786.4,268.0 786.5,268.1 786.6,268.4 786.7,268.9 786.8,269.6 786.9,270.6 787.0,271.7 787.1,273.1 787.2,274.7 787.3,276.5 787.4,278.6 787.5,280.9 787.6,283.5 787.7,286.4 787.8,289.6 787.9,293.0 788.0,296.9 788.0,301.1 788.1,305.7 788.2,310.7 788.3,316.2 788.4,322.2 788.5,328.8 788.6,336.1 788.7,344.0 788.8,352.7 788.9,362.1 789.0,372.3 789.1,383.1 789.2,394.0 789.3,403.9 789.4,411.3 789.5,414.0 789.6,413.0 789.7,410.1 789.8,405.7 789.9,400.2 790.0,394.1 790.1,387.6 790.2,381.0 790.3,374.5 790.4,368.2 790.5,362.1 790.6,356.3 790.7,350.7 790.8,345.4 790.9,340.4 791.0,335.6 791.1,331.0 791.2,326.7 791.3,322.6 791.4,318.7 791.5,315.0 791.6,311.5 791.7,308.1 791.8,304.9 791.9,301.9 792.0,298.9 792.1,296.2 792.2,293.5 792.3,291.0 792.4,288.5 792.5,286.2 792.6,284.0 792.7,281.9 792.8,279.9 792.9,277.9 793.0,276.1 793.1,274.3 793.2,272.7 793.3,271.1 793.4,269.5 793.5,268.1 793.6,266.7 793.7,265.4 793.8,264.2 793.9,263.0 794.0,261.9 794.1,260.8 794.2,259.9 794.3,258.9 794.4,258.1 794.5,257.2 794.6,256.5 794.7,255.8 794.8,255.1 794.9,254.6 795.0,254.0 795.1,253.5 795.2,253.1 795.3,252.7 795.4,252.4 795.5,252.1 795.6,251.9 795.7,251.7 795.8,251.6 795.9,251.5 796.0,251.5 796.1,251.6 796.2,251.9 796.3,252.5 796.4,253.3 796.5,254.3 796.6,255.5 796.7,257.0 796.8,258.7 796.9,260.7 797.0,262.9 797.1,265.4 797.2,268.2 797.3,271.2 797.4,274.6 797.5,278.3 797.6,282.3 797.7,286.7 797.8,291.5 797.9,296.7 798.0,302.2 798.1,308.2 798.2,314.6 798.3,321.3 798.4,328.4 798.5,335.5 798.6,342.5 798.7,348.9 798.8,354.2 798.9,357.7 799.0,359.0 799.1,356.1 799.2,348.3 799.3,338.0 799.4,327.0 799.5,316.3 799.6,306.3 799.7,297.4 799.8,289.3 799.9,282.2 800.0,276.0 800.1,270.5 800.2,265.8 800.3,261.7 800.4,258.2 800.5,255.3 800.6,253.0 800.7,251.3 800.8,250.0 800.9,249.2 801.0,249.0 801.1,249.1 801.2,249.4 801.3,250.0 801.4,250.8 801.5,251.8 801.6,253.0 801.7,254.5 801.8,256.3 801.9,258.3 802.0,260.5 802.1,263.0 802.2,265.8 802.3,268.9 802.4,272.4 802.5,276.1 802.6,280.2 802.7,284.7 802.8,289.6 802.9,294.9 803.0,300.6 803.1,306.8 803.2,313.4 803.3,320.5 803.4,327.8 803.5,335.4 803.6,342.9 803.7,349.8 803.8,355.7 803.9,359.6 804.0,361.0 804.1,358.8 804.2,352.7 804.3,344.4 804.4,335.1 804.5,325.9 804.6,317.2 804.7,309.2 804.8,302.0 804.9,295.7 805.0,290.1 805.1,285.4 805.2,281.3 805.3,277.9 805.4,275.2 805.5,273.1 805.6,271.7 805.7,270.8 805.8,270.5 805.9,270.6 806.0,270.9 806.1,271.4 806.2,272.1 806.3,273.0 806.4,274.1 806.5,275.5 806.6,277.0 806.7,278.8 806.8,280.8 806.9,283.1 807.0,285.7 807.1,288.5 807.2,291.6 807.3,295.1 807.4,298.9 807.4,303.1 807.5,307.7 807.6,312.7 807.7,318.3 807.8,324.5 807.9,331.4 808.0,339.0 808.1,347.6 808.2,357.4 808.3,368.6 808.4,381.7 808.5,397.4 808.6,416.7 808.7,441.7 808.8,470.0 808.9,470.0 809.0,470.0 809.1,470.0 809.2,435.8 809.3,400.5 809.4,375.7 809.5,356.7 809.6,341.3 809.7,328.6 809.8,317.9 809.9,308.6 810.0,300.6 810.1,293.6 810.2,287.4 810.3,282.0 810.4,277.3 810.5,273.2 810.6,269.6 810.7,266.6 810.8,264.0 810.9,261.8 811.0,260.0 811.1,258.7 811.2,257.8 811.3,257.2 811.4,257.0 811.5,257.1 811.6,257.4 811.7,257.9 811.8,258.6 811.9,259.5 812.0,260.6 812.1,261.9 812.2,263.4 812.3,265.2 812.4,267.2 812.5,269.4 812.6,271.9 812.7,274.6 812.8,277.6 812.9,280.9 813.0,284.5 813.0,288.5 813.1,292.7 813.2,297.4 813.3,302.4 813.4,307.8 813.5,313.7 813.6,320.0 813.7,326.7 813.8,333.8 813.9,341.3 814.0,349.0 814.1,356.6 814.2,363.7 814.3,369.6 814.4,373.6 814.5,375.0 814.6,374.5 814.7,373.1 814.8,370.8 814.9,367.9 815.0,364.5 815.1,360.7 815.2,356.8 815.3,352.8 815.4,348.9 815.5,345.0 815.6,341.4 815.7,337.9 815.8,334.7 815.9,331.7 816.0,328.9 816.1,326.5 816.2,324.3 816.3,322.3 816.4,320.6 816.5,319.2 816.6,318.1 816.7,317.2 816.8,316.5 816.9,316.1 817.0,316.0 817.1,316.1 817.2,316.3 817.3,316.6 817.4,317.0 817.5,317.6 817.6,318.4 817.7,319.2 817.8,320.2 817.9,321.3 818.0,322.6 818.1,324.0 818.2,325.6 818.3,327.3 818.4,329.1 818.5,331.1 818.6,333.2 818.7,335.5 818.8,338.0 818.8,340.6 818.9,343.4 819.0,346.3 819.1,349.3 819.2,352.5 819.3,355.9 819.4,359.3 819.5,362.9 819.6,366.5 819.7,370.1 819.8,373.7 819.9,377.3 820.0,380.6 820.1,383.8 820.2,386.5 820.3,388.8 820.4,390.6 820.5,391.6 820.6,392.0 820.7,391.8 820.8,391.1 820.9,390.0 821.0,388.5 821.1,386.7 821.2,384.6 821.3,382.3 821.4,379.8 821.5,377.1 821.6,374.4 821.7,371.6 821.8,368.8 821.9,366.0 822.0,363.2 822.1,360.5 822.2,357.8 822.3,355.2 822.4,352.7 822.5,350.2 822.6,347.9 822.7,345.6 822.8,343.5 822.9,341.4 823.0,339.5 823.1,337.6 823.2,335.9 823.3,334.3 823.4,332.7 823.5,331.3 823.6,329.9 823.7,328.7 823.8,327.5 823.9,326.5 824.0,325.5 824.1,324.7 824.2,323.9 824.3,323.2 824.4,322.6 824.5,322.1 824.6,321.7 824.7,321.4 824.8,321.2 824.9,321.0 825.0,321.0 825.1,321.0 825.2,321.2 825.3,321.4 825.4,321.7 825.5,322.0 825.6,322.3 825.7,322.6 825.8,322.8 825.9,322.9 826.0,323.0 826.1,322.9 826.2,322.6 826.3,322.0 826.4,321.2 826.5,320.3 826.6,319.2 826.7,317.9 826.8,316.5 826.9,315.0 827.0,313.4 827.1,311.8 827.2,310.1 827.3,308.3 827.4,306.6 827.5,304.8 827.6,303.1 827.7,301.4 827.8,299.7 827.9,298.0 828.0,296.4 828.1,294.9 828.2,293.4 828.3,292.0 828.4,290.7 828.5,289.4 828.6,288.2 828.7,287.1 828.8,286.0 828.9,285.1 829.0,284.2 829.1,283.4 829.2,282.7 829.3,282.1 829.4,281.5 829.5,281.1 829.6,280.7 829.7,280.4 829.8,280.2 829.9,280.0 830.0,280.0 830.1,280.1 830.2,280.3 830.3,280.7 830.4,281.2 830.5,281.9 830.6,282.7 830.7,283.7 830.8,284.8 830.9,286.1 831.0,287.6 831.1,289.2 831.2,291.1 831.3,293.1 831.4,295.3 831.5,297.7 831.6,300.3 831.7,303.1 831.8,306.1 831.8,309.4 831.9,312.9 832.0,316.7 832.1,320.8 832.2,325.2 832.3,329.9 832.4,334.9 832.5,340.3 832.6,346.0 832.7,352.1 832.8,358.5 832.9,365.1 833.0,372.0 833.1,378.9 833.2,385.6 833.3,391.6 833.4,396.6 833.5,399.8 833.6,401.0 833.7,399.2 833.8,394.0 833.9,386.7 834.0,378.1 834.1,369.1 834.2,360.2 834.3,351.7 834.4,343.6 834.5,336.1 834.6,329.0 834.7,322.4 834.8,316.2 834.9,310.5 835.0,305.1 835.1,300.1 835.2,295.4 835.3,291.0 835.4,286.9 835.5,283.0 835.6,279.3 835.7,275.9 835.8,272.7 835.9,269.6 836.0,266.8 836.1,264.1 836.2,261.6 836.3,259.2 836.4,257.0 836.5,254.9 836.6,252.9 836.7,251.1 836.8,249.4 836.9,247.8 837.0,246.3 837.1,244.9 837.2,243.7 837.3,242.5 837.4,241.4 837.5,240.5 837.6,239.6 837.7,238.8 837.8,238.2 837.9,237.6 838.0,237.1 838.1,236.7 838.2,236.4 838.3,236.2 838.4,236.0 838.5,236.0 838.6,236.1 838.7,236.2 838.8,236.5 838.9,236.8 839.0,237.3 839.1,237.8 839.2,238.5 839.3,239.3 839.4,240.1 839.5,241.1 839.6,242.2 839.7,243.4 839.8,244.8 839.9,246.2 840.0,247.8 840.1,249.5 840.2,251.3 840.3,253.3 840.4,255.4 840.5,257.6 840.6,260.1 840.7,262.6 840.8,265.3 840.9,268.2 841.0,271.3 841.1,274.6 841.2,278.1 841.3,281.8 841.4,285.7 841.5,289.8 841.6,294.2 841.7,298.8 841.8,303.7 841.9,308.9 842.0,314.3 842.1,319.9 842.2,325.7 842.3,331.7 842.4,337.7 842.5,343.5 842.6,349.0 842.7,353.8 842.8,357.7 842.9,360.1 843.0,361.0 843.1,359.1 843.2,353.8 843.3,346.2 843.4,337.4 843.5,328.3 843.6,319.3 843.7,310.7 843.8,302.6 843.9,295.1 844.0,288.1 844.1,281.6 844.2,275.6 844.3,270.0 844.4,264.8 844.5,260.0 844.6,255.5 844.7,251.3 844.8,247.4 844.9,243.8 845.0,240.5 845.1,237.4 845.2,234.5 845.3,231.8 845.4,229.3 845.5,227.1 845.6,225.0 845.7,223.0 845.8,221.3 845.9,219.7 846.0,218.2 846.1,216.9 846.2,215.8 846.3,214.7 846.4,213.9 846.5,213.1 846.6,212.6 846.7,212.1 846.8,211.8 846.9,211.6 847.0,211.5 847.1,211.5 847.2,211.7 847.3,211.9 847.4,212.2 847.5,212.6 847.6,213.0 847.7,213.6 847.8,214.3 847.9,215.0 848.0,215.8 848.1,216.8 848.2,217.8 848.3,218.9 848.4,220.1 848.5,221.5 848.6,222.9 848.7,224.4 848.8,226.1 848.9,227.8 849.0,229.7 849.1,231.8 849.2,233.9 849.3,236.2 849.4,238.6 849.5,241.2 849.6,244.0 849.7,246.9 849.8,250.0 849.9,253.3 850.0,256.8 850.1,260.6 850.2,264.6 850.3,268.8 850.4,273.4 850.5,278.2 850.6,283.4 850.7,289.0 850.8,295.0 850.9,301.4 851.0,308.4 851.1,316.0 851.2,324.1 851.3,333.0 851.4,342.5 851.5,352.7 851.6,363.3 851.7,373.9 851.8,383.5 851.9,390.4 852.0,393.0 852.1,390.3 852.2,383.2 852.3,373.5 852.4,362.7 852.5,352.0 852.6,341.7 852.7,332.1 852.8,323.2 852.9,315.0 853.0,307.4 853.1,300.4 853.2,294.0 853.3,288.0 853.4,282.4 853.5,277.3 853.6,272.4 853.7,267.9 853.8,263.7 853.9,259.8 854.0,256.1 854.1,252.6 854.2,249.4 854.3,246.3 854.4,243.4 854.4,240.8 854.5,238.2 854.6,235.9 854.7,233.6 854.8,231.6 854.9,229.6 855.0,227.8 855.1,226.1 855.2,224.6 855.3,223.1 855.4,221.8 855.5,220.6 855.6,219.5 855.7,218.5 855.8,217.5 855.9,216.7 856.0,216.0 856.1,215.4 856.2,214.9 856.3,214.5 856.4,214.2 856.5,213.9 856.6,213.8 856.7,213.8 856.8,213.8 856.9,213.9 857.0,214.1 857.1,214.4 857.2,214.8 857.3,215.2 857.4,215.7 857.5,216.3 857.6,217.0 857.7,217.8 857.8,218.7 857.9,219.7 858.0,220.7 858.1,221.8 858.2,223.1 858.3,224.4 858.4,225.9 858.5,227.4 858.6,229.1 858.7,230.9 858.8,232.7 858.9,234.8 859.0,236.9 859.1,239.2 859.2,241.6 859.3,244.2 859.4,246.9 859.5,249.8 859.6,252.9 859.7,256.2 859.8,259.7 859.9,263.4 860.0,267.4 860.1,271.6 860.2,276.2 860.3,281.0 860.4,286.3 860.5,292.0 860.6,298.1 860.7,304.8 860.8,312.1 860.9,320.2 861.0,329.2 861.1,339.3 861.2,350.8 861.3,364.2 861.4,380.1 861.5,399.5 861.6,424.7 861.7,460.2 861.8,470.0 861.9,470.0 862.0,470.0 862.1,470.0 862.2,454.8 862.3,429.6 862.4,410.1 862.5,394.3 862.6,381.0 862.7,369.5 862.8,359.4 862.9,350.4 863.0,342.4 863.1,335.1 863.2,328.4 863.3,322.3 863.4,316.7 863.5,311.5 863.6,306.7 863.7,302.2 863.8,298.0 863.9,294.1 864.0,290.5 864.1,287.1 864.2,283.9 864.3,280.9 864.4,278.0 864.5,275.4 864.6,272.9 864.7,270.6 864.8,268.4 864.9,266.4 865.0,264.5 865.1,262.7 865.2,261.1 865.3,259.6 865.4,258.2 865.5,256.9 865.6,255.7 865.7,254.6 865.8,253.6 865.9,252.7 866.0,251.9 866.1,251.2 866.2,250.6 866.3,250.1 866.4,249.7 866.5,249.4 866.6,249.2 866.7,249.0 866.8,249.0 866.8,249.0 866.9,249.1 867.0,249.3 867.1,249.6 867.2,249.9 867.3,250.3 867.4,250.8 867.5,251.3 867.6,251.9 867.7,252.6 867.8,253.4 867.9,254.3 868.0,255.2 868.1,256.2 868.2,257.3 868.3,258.5 868.4,259.8 868.5,261.2 868.6,262.6 868.7,264.2 868.8,265.8 868.9,267.6 869.0,269.5 869.1,271.5 869.2,273.6 869.3,275.8 869.4,278.2 869.5,280.7 869.6,283.4 869.7,286.2 869.8,289.2 869.9,292.3 870.0,295.7 870.1,299.2 870.2,303.0 870.3,307.0 870.4,311.3 870.5,315.9 870.6,320.8 870.7,326.1 870.8,331.8 870.9,338.0 871.0,344.8 871.1,352.1 871.2,360.2 871.3,369.3 871.4,379.4 871.5,390.9 871.6,404.3 871.7,420.2 871.8,439.7 871.9,464.9 872.0,470.0 872.1,470.0 872.2,470.0 872.3,470.0 872.4,470.0 872.5,470.0 872.6,470.0 872.7,470.0 872.8,461.3 872.9,447.8 873.0,436.2 873.1,425.9 873.2,416.8 873.3,408.6 873.4,401.1 873.5,394.2 873.6,387.9 873.7,382.0 873.8,376.5 873.9,371.4 874.0,366.6 874.1,362.1 874.2,357.8 874.3,353.8 874.4,350.0 874.5,346.4 874.6,342.9 874.7,339.7 874.8,336.6 874.9,333.6 875.0,330.7 875.1,328.0 875.2,325.4 875.3,322.9 875.4,320.6 875.5,318.3 875.6,316.1 875.7,314.0 875.8,312.0 875.9,310.0 876.0,308.2 876.1,306.4 876.2,304.7 876.3,303.1 876.4,301.5 876.5,300.0 876.6,298.5 876.7,297.2 876.8,295.8 876.9,294.6 877.0,293.4 877.1,292.2 877.2,291.1 877.3,290.0 877.4,289.0 877.5,288.1 877.6,287.2 877.7,286.3 877.8,285.5 877.9,284.7 878.0,284.0 878.1,283.3 878.2,282.6 878.3,282.0 878.4,281.5 878.5,281.0 878.6,280.5 878.7,280.0 878.8,279.6 878.9,279.3 879.0,279.0 879.1,278.7 879.2,278.4 879.3,278.2 879.4,278.1 879.5,277.9 879.6,277.8 879.7,277.8 879.8,277.8 879.9,277.8 880.0,277.8 880.1,277.8 880.2,277.9 880.3,277.9 880.4,278.0 880.5,278.1 880.6,278.2 880.7,278.4 880.8,278.5 880.9,278.7 881.0,278.9 881.1,279.0 881.2,279.2 881.3,279.5 881.4,279.7 881.5,279.9 881.6,280.2 881.7,280.5 881.8,280.8 881.9,281.1 882.0,281.4 882.1,281.7 882.2,282.0 882.3,282.4 882.4,282.7 882.5,283.1 882.6,283.5 882.7,283.9 882.8,284.3 882.9,284.7 883.0,285.1 883.1,285.6 883.2,286.0 883.3,286.4 883.4,286.9 883.5,287.3 883.6,287.8 883.7,288.3 883.8,288.7 883.9,289.2 884.0,289.7 884.1,290.2 884.2,290.6 884.3,291.1 884.4,291.6 884.5,292.1 884.6,292.5 884.7,293.0 884.8,293.5 884.9,293.9 885.0,294.4 885.1,294.8 885.2,295.2 885.3,295.6 885.4,296.0 885.5,296.4 885.6,296.8 885.7,297.2 885.8,297.5 885.9,297.9 886.0,298.2 886.1,298.5 886.2,298.7 886.3,299.0 886.4,299.2 886.5,299.4 886.6,299.6 886.7,299.8 886.8,299.9 886.9,300.0 887.0,300.1 887.1,300.2 887.2,300.2 887.3,300.2 887.4,300.2 887.5,300.1 887.6,299.9 887.7,299.6 887.8,299.3 887.9,298.9 888.0,298.4 888.1,297.9 888.2,297.3 888.3,296.6 888.4,295.9 888.5,295.2 888.6,294.3 888.7,293.5 888.8,292.6 888.9,291.7 889.0,290.7 889.1,289.7 889.2,288.7 889.3,287.6 889.4,286.6 889.5,285.5 889.6,284.4 889.7,283.3 889.8,282.2 889.9,281.1 890.0,279.9 890.1,278.8 890.2,277.7 890.3,276.6 890.4,275.5 890.5,274.4 890.6,273.3 890.7,272.2 890.8,271.1 890.9,270.1 891.0,269.0 891.1,268.0 891.2,267.0 891.3,266.0 891.4,265.0 891.5,264.0 891.6,263.0 891.7,262.1 891.8,261.2 891.9,260.3 892.0,259.4 892.1,258.5 892.2,257.7 892.3,256.8 892.4,256.0 892.5,255.2 892.6,254.5 892.7,253.7 892.8,253.0 892.9,252.3 893.0,251.6 893.1,250.9 893.2,250.2 893.3,249.6 893.4,249.0 893.5,248.4 893.6,247.8 893.7,247.3 893.8,246.7 893.9,246.2 894.0,245.7 894.1,245.3 894.2,244.8 894.3,244.4 894.4,243.9 894.5,243.5 894.6,243.2 894.7,242.8 894.8,242.5 894.9,242.2 895.0,241.9 895.1,241.6 895.2,241.3 895.3,241.1 895.4,240.9 895.5,240.7 895.6,240.5 895.7,240.3 895.8,240.2 895.9,240.0 896.0,239.9 896.1,239.9 896.2,239.8 896.3,239.7 896.4,239.7 896.5,239.7 896.5,239.7 896.6,239.8 896.7,239.8 896.8,239.9 896.9,240.0 897.0,240.2 897.1,240.3 897.2,240.5 897.3,240.7 897.4,241.0 897.5,241.2 897.6,241.5 897.7,241.8 897.8,242.2 897.9,242.6 898.0,243.0 898.1,243.4 898.2,243.8 898.3,244.3 898.4,244.8 898.5,245.3 898.6,245.9 898.7,246.5 898.8,247.1 898.9,247.7 899.0,248.4 899.1,249.1 899.2,249.8 899.3,250.6 899.4,251.3 899.5,252.1 899.6,253.0 899.7,253.8 899.8,254.7 899.9,255.6 900.0,256.6 900.1,257.6 900.2,258.6 900.3,259.6 900.4,260.7 900.5,261.8 900.6,262.9 900.7,264.0 900.8,265.2 900.9,266.4 901.0,267.6 901.1,268.9 901.2,270.2 901.3,271.5 901.4,272.8 901.5,274.2 901.6,275.6 901.7,277.0 901.8,278.4 901.9,279.9 902.0,281.3 902.1,282.8 902.2,284.3 902.3,285.8 902.4,287.3 902.5,288.8 902.6,290.3 902.7,291.9 902.8,293.4 902.9,294.9 903.0,296.3 903.1,297.8 903.2,299.2 903.3,300.5 903.4,301.9 903.5,303.2 903.6,304.4 903.7,305.5 903.8,306.6 903.9,307.6 904.0,308.4 904.1,309.2 904.2,309.9 904.3,310.5 904.4,310.9 904.5,311.2 904.6,311.4 904.7,311.5 904.8,311.5 904.9,311.4 905.0,311.3 905.1,311.1 905.2,310.9 905.3,310.6 905.4,310.2 905.5,309.9 905.6,309.5 905.7,309.0 905.8,308.5 905.9,308.0 906.0,307.4 906.1,306.8 906.2,306.2 906.3,305.6 906.4,304.9 906.5,304.3 906.6,303.6 906.7,302.9 906.8,302.1 906.9,301.4 907.0,300.7 907.1,300.0 907.2,299.3 907.3,298.6 907.4,297.8 907.5,297.1 907.6,296.4 907.7,295.8 907.8,295.1 907.9,294.4 908.0,293.8 908.1,293.2 908.2,292.5 908.3,292.0 908.4,291.4 908.5,290.8 908.6,290.3 908.7,289.8 908.8,289.3 908.9,288.9 909.0,288.4 909.1,288.0 909.2,287.7 909.3,287.3 909.4,287.0 909.5,286.7 909.6,286.4 909.7,286.2 909.8,286.0 909.9,285.8 910.0,285.6 910.1,285.5 910.2,285.4 910.3,285.3 910.4,285.3 910.5,285.3 910.6,285.3 910.7,285.3 910.8,285.3 910.9,285.4 911.0,285.5 911.1,285.6 911.2,285.8 911.3,285.9 911.4,286.1 911.5,286.3 911.6,286.6 911.7,286.8 911.8,287.1 911.9,287.4 912.0,287.7 912.1,288.0 912.2,288.4 912.3,288.7 912.4,289.1 912.5,289.6 912.6,290.0 912.7,290.5 912.8,290.9 912.9,291.5 913.0,292.0 913.1,292.5 913.2,293.1 913.3,293.7 913.4,294.3 913.5,294.9 913.6,295.5 913.7,296.2 913.8,296.9 913.9,297.6 914.0,298.3 914.1,299.0 914.2,299.8 914.3,300.6 914.4,301.4 914.5,302.2 914.6,303.0 914.7,303.8 914.8,304.6 914.9,305.5 915.0,306.4 915.1,307.3 915.2,308.1 915.3,309.0 915.4,309.9 915.5,310.9 915.6,311.8 915.7,312.7 915.8,313.6 915.9,314.5 916.0,315.4 916.1,316.3 916.2,317.2 916.3,318.1 916.4,319.0 916.5,319.9 916.6,320.7 916.7,321.6 916.8,322.4 916.9,323.1 917.0,323.9 917.1,324.6 917.2,325.3 917.3,326.0 917.4,326.6 917.5,327.1 917.6,327.7 917.7,328.1 917.8,328.6 917.9,328.9 918.0,329.3 918.1,329.5 918.2,329.7 918.3,329.9 918.4,330.0 918.5,330.0 918.6,330.0 918.7,329.9 918.8,329.8 918.9,329.7 919.0,329.5 919.1,329.3 919.2,329.2 919.3,329.1 919.4,329.0 919.5,329.0 919.6,329.0 919.7,329.1 919.8,329.2 919.9,329.4 920.0,329.6 920.1,329.9 920.2,330.2 920.3,330.6 920.4,331.0 920.5,331.4 920.6,331.9 920.7,332.5 920.8,333.1 920.9,333.8 921.0,334.5 921.1,335.3 921.2,336.1 921.3,337.0 921.4,337.9 921.5,338.9 921.6,340.0 921.7,341.1 921.8,342.3 921.9,343.5 922.0,344.8 922.1,346.1 922.2,347.5 922.3,349.0 922.4,350.5 922.5,352.1 922.6,353.8 922.6,355.5 922.7,357.3 922.8,359.2 922.9,361.2 923.0,363.2 923.1,365.3 923.2,367.5 923.3,369.7 923.4,372.0 923.5,374.4 923.6,376.9 923.7,379.4 923.8,382.0 923.9,384.7 924.0,387.4 924.1,390.1 924.2,393.0 924.3,395.8 924.4,398.6 924.5,401.5 924.6,404.3 924.7,407.1 924.8,409.8 924.9,412.4 925.0,414.8 925.1,417.1 925.2,419.1 925.3,420.8 925.4,422.2 925.5,423.2 925.6,423.8 925.7,424.0 925.8,423.3 925.9,421.1 926.0,417.8 926.1,413.5 926.2,408.5 926.3,403.1 926.4,397.5 926.5,391.8 926.6,386.2 926.7,380.6 926.8,375.2 926.9,370.0 927.0,365.0 927.1,360.1 927.2,355.5 927.3,351.0 927.4,346.7 927.5,342.6 927.6,338.6 927.7,334.9 927.8,331.2 927.9,327.7 928.0,324.3 928.1,321.1 928.2,318.0 928.3,315.0 928.4,312.1 928.5,309.2 928.6,306.5 928.7,303.9 928.8,301.4 928.9,298.9 929.0,296.6 929.1,294.3 929.2,292.0 929.3,289.9 929.4,287.8 929.5,285.7 929.6,283.8 929.7,281.9 929.8,280.0 929.9,278.2 930.0,276.4 930.1,274.7 930.2,273.1 930.3,271.4 930.4,269.9 930.5,268.4 930.6,266.9 930.7,265.4 930.8,264.0 930.9,262.7 931.0,261.3 931.1,260.0 931.2,258.8 931.3,257.5 931.4,256.3 931.5,255.2 931.6,254.1 931.7,253.0 931.8,251.9 931.9,250.8 932.0,249.8 932.1,248.8 932.2,247.9 932.3,247.0 932.4,246.1 932.5,245.2 932.6,244.3 932.7,243.5 932.8,242.7 932.9,241.9 933.0,241.1 933.1,240.4 933.2,239.7 933.3,239.0 933.4,238.3 933.5,237.7 933.6,237.1 933.7,236.5 933.8,235.9 933.9,235.3 934.0,234.8 934.1,234.2 934.2,233.7 934.3,233.3 934.4,232.8 934.5,232.3 934.6,231.9 934.7,231.5 934.8,231.1 934.9,230.8 935.0,230.4 935.1,230.1 935.2,229.7 935.3,229.4 935.4,229.2 935.5,228.9 935.6,228.7 935.7,228.4 935.8,228.2 935.9,228.0 936.0,227.8 936.1,227.7 936.2,227.5 936.3,227.4 936.4,227.3 936.5,227.2 936.6,227.1 936.7,227.1 936.8,227.0 936.9,227.0 937.0,227.0 937.1,227.0 937.2,227.0 937.3,227.1 937.4,227.2 937.5,227.3 937.6,227.4 937.7,227.5 937.8,227.7 937.9,227.9 938.0,228.1 938.1,228.3 938.2,228.6 938.3,228.9 938.4,229.2 938.5,229.5 938.6,229.8 938.7,230.2 938.8,230.6 938.9,231.0 939.0,231.4 939.1,231.9 939.2,232.4 939.3,232.9 939.4,233.4 939.5,234.0 939.6,234.6 939.7,235.2 939.8,235.8 939.9,236.5 940.0,237.2 940.1,237.9 940.2,238.6 940.3,239.4 940.4,240.2 940.5,241.0 940.6,241.9 940.7,242.8 940.8,243.7 940.9,244.6 941.0,245.6 941.1,246.6 941.2,247.7 941.3,248.7 941.4,249.9 941.5,251.0 941.6,252.2 941.7,253.4 941.8,254.6 941.8,255.9 941.9,257.2 942.0,258.6 942.1,260.0 942.2,261.4 942.3,262.9 942.4,264.5 942.5,266.0 942.6,267.6 942.7,269.3 942.8,271.0 942.9,272.8 943.0,274.6 943.1,276.4 943.2,278.4 943.3,280.3 943.4,282.3 943.5,284.4 943.6,286.6 943.7,288.7 943.8,291.0 943.9,293.3 944.0,295.7 944.1,298.1 944.2,300.6 944.3,303.2 944.4,305.8 944.5,308.5 944.6,311.3 944.7,314.1 944.8,316.9 944.9,319.8 945.0,322.8 945.1,325.7 945.2,328.7 945.3,331.7 945.4,334.7 945.5,337.7 945.6,340.6 945.7,343.4 945.8,346.0 945.9,348.6 946.0,350.9 946.1,352.9 946.2,354.7 946.3,356.1 946.4,357.1 946.5,357.8 946.6,358.0 946.7,357.8 946.8,357.1 946.9,356.0 947.0,354.6 947.1,352.8 947.2,350.7 947.3,348.3 947.4,345.7 947.5,343.0 947.6,340.1 947.7,337.2 947.8,334.1 947.9,331.1 948.0,328.0 948.1,325.0 948.2,322.0 948.3,319.0 948.4,316.0 948.5,313.2 948.6,310.3 948.7,307.5 948.8,304.8 948.9,302.2 949.0,299.6 949.1,297.0 949.2,294.6 949.3,292.2 949.4,289.8 949.5,287.6 949.6,285.3 949.7,283.2 949.8,281.1 949.9,279.0 950.0,277.1 950.1,275.1 950.2,273.2 950.3,271.4 950.4,269.6 950.5,267.9 950.6,266.2 950.7,264.6 950.8,263.0 950.9,261.5 951.0,260.0 951.1,258.5 951.2,257.1 951.3,255.7 951.4,254.3 951.5,253.0 951.6,251.8 951.7,250.5 951.8,249.3 951.9,248.2 952.0,247.1 952.1,246.0 952.2,244.9 952.3,243.9 952.4,242.9 952.5,241.9 952.6,241.0 952.7,240.1 952.8,239.2 952.9,238.3 953.0,237.5 953.1,236.7 953.2,235.9 953.3,235.2 953.4,234.5 953.5,233.8 953.6,233.1 953.7,232.5 953.8,231.9 953.9,231.3 954.0,230.7 954.1,230.2 954.2,229.7 954.3,229.2 954.4,228.7 954.5,228.3 954.6,227.9 954.7,227.5 954.8,227.1 954.9,226.7 955.0,226.4 955.1,226.1 955.2,225.8 955.3,225.5 955.4,225.3 955.5,225.1 955.6,224.9 955.7,224.7 955.8,224.5 955.9,224.4 956.0,224.3 956.1,224.2 956.2,224.1 956.3,224.0 956.4,224.0 956.5,224.0 956.5,224.0 956.6,224.0 956.7,224.1 956.8,224.1 956.9,224.2 957.0,224.3 957.1,224.4 957.2,224.6 957.3,224.7 957.4,224.9 957.5,225.1 957.6,225.3 957.7,225.5 957.8,225.7 957.9,226.0 958.0,226.3 958.1,226.6 958.2,226.9 958.3,227.2 958.4,227.6 958.5,227.9 958.6,228.3 958.7,228.7 958.8,229.2 958.9,229.6 959.0,230.1 959.1,230.6 959.2,231.1 959.3,231.6 959.4,232.2 959.5,232.7 959.6,233.3 959.7,233.9 959.8,234.6 959.9,235.2 960.0,235.9 960.1,236.6 960.2,237.4 960.3,238.1 960.4,238.9 960.5,239.7 960.6,240.5 960.7,241.4 960.8,242.3 960.9,243.2 961.0,244.1 961.1,245.1 961.2,246.0 961.3,247.1 961.4,248.1 961.5,249.2 961.6,250.3 961.7,251.4 961.8,252.6 961.9,253.8 962.0,255.1 962.1,256.3 962.2,257.7 962.3,259.0 962.4,260.4 962.5,261.8 962.6,263.3 962.7,264.8 962.8,266.4 962.9,268.0 963.0,269.6 963.1,271.4 963.2,273.1 963.3,274.9 963.4,276.8 963.5,278.7 963.6,280.7 963.7,282.7 963.8,284.9 963.9,287.1 964.0,289.3 964.1,291.7 964.2,294.1 964.3,296.6 964.4,299.2 964.5,301.9 964.6,304.7 964.7,307.6 964.8,310.6 964.9,313.8 965.0,317.1 965.1,320.5 965.2,324.1 965.3,327.9 965.4,331.8 965.5,336.0 965.6,340.4 965.7,345.0 965.8,350.0 965.9,355.2 966.0,360.8 966.1,366.7 966.2,373.2 966.3,380.1 966.4,387.7 966.5,396.0 966.6,405.2 966.7,415.5 966.8,427.2 966.9,440.7 967.0,456.6 967.1,470.0 967.2,470.0 967.3,470.0 967.4,470.0 967.5,470.0 967.6,470.0 967.7,470.0 967.8,469.0 967.9,443.8 968.0,424.3 968.1,408.3 968.2,394.8 968.3,383.2 968.4,372.9 968.5,363.8 968.6,355.5 968.7,348.0 968.8,341.1 968.9,334.7 969.0,328.8 969.1,323.3 969.2,318.1 969.3,313.3 969.4,308.7 969.5,304.4 969.6,300.3 969.7,296.5 969.8,292.8 969.9,289.3 970.0,286.0 970.1,282.8 970.2,279.7 970.3,276.8 970.4,274.0 970.5,271.3 970.6,268.8 970.7,266.3 970.8,263.9 970.9,261.7 971.0,259.5 971.1,257.4 971.2,255.3 971.3,253.4 971.4,251.5 971.5,249.7 971.6,247.9 971.7,246.3 971.8,244.6 971.9,243.1 972.0,241.6 972.1,240.1 972.2,238.7 972.3,237.4 972.4,236.1 972.5,234.8 972.6,233.6 972.7,232.5 972.8,231.3 972.9,230.3 973.0,229.2 973.1,228.3 973.2,227.3 973.3,226.4 973.4,225.6 973.5,224.7 973.6,223.9 973.7,223.2 973.8,222.5 973.9,221.8 974.0,221.1 974.1,220.5 974.2,220.0 974.3,219.4 974.4,218.9 974.5,218.4 974.6,218.0 974.7,217.6 974.8,217.2 974.9,216.8 975.0,216.5 975.1,216.2 975.2,216.0 975.3,215.7 975.4,215.5 975.5,215.4 975.6,215.2 975.7,215.1 975.8,215.1 975.9,215.0 976.0,215.0" fill="none" stroke="#000" stroke-width="2.083" stroke-linejoin="round" stroke-linecap="square"/>
</g>
<g shape-rendering="crispEdges">
<rect x="77" y="43" width="1" height="4" fill-opacity="0.055"/>
<rect x="77" y="48" width="1" height="5" fill-opacity="0.055"/>
<rect x="77" y="54" width="1" height="6" fill-opacity="0.055"/>
<rect x="77" y="61" width="1" height="7" fill-opacity="0.055"/>
<rect x="77" y="69" width="1" height="9" fill-opacity="0.055"/>
<rect x="77" y="79" width="1" height="11" fill-opacity="0.055"/>
<rect x="77" y="91" width="1" height="17" fill-opacity="0.055"/>
<rect x="77" y="109" width="1" height="28" fill-opacity="0.055"/>
<rect x="77" y="144" width="1" height="4" fill-opacity="0.055"/>
<rect x="77" y="149" width="1" height="5" fill-opacity="0.055"/>
<rect x="77" y="155" width="1" height="6" fill-opacity="0.055"/>
<rect x="77" y="162" width="1" height="7" fill-opacity="0.055"/>
<rect x="77" y="170" width="1" height="9" fill-opacity="0.055"/>
<rect x="77" y="180" width="1" height="11" fill-opacity="0.055"/>
<rect x="77" y="192" width="1" height="17" fill-opacity="0.055"/>
<rect x="77" y="210" width="1" height="29" fill-opacity="0.055"/>
<rect x="77" y="245" width="1" height="4" fill-opacity="0.055"/>
<rect x="77" y="250" width="1" height="5" fill-opacity="0.055"/>
<rect x="77" y="256" width="1" height="6" fill-opacity="0.055"/>
<rect x="77" y="263" width="1" height="7" fill-opacity="0.055"/>
<rect x="77" y="271" width="1" height="9" fill-opacity="0.055"/>
<rect x="77" y="281" width="1" height="11" fill-opacity="0.055"/>
<rect x="77" y="293" width="1" height="17" fill-opacity="0.055"/>
<rect x="77" y="311" width="1" height="29" fill-opacity="0.055"/>
<rect x="77" y="346" width="1" height="4" fill-opacity="0.055"/>
<rect x="77" y="351" width="1" height="5" fill-opacity="0.055"/>
<rect x="77" y="357" width="1" height="6" fill-opacity="0.055"/>
<rect x="77" y="364" width="1" height="7" fill-opacity="0.055"/>
<rect x="77" y="372" width="1" height="9" fill-opacity="0.055"/>
<rect x="77" y="382" width="1" height="11" fill-opacity="0.055"/>
<rect x="77" y="394" width="1" height="17" fill-opacity="0.055"/>
<rect x="77" y="412" width="1" height="29" fill-opacity="0.055"/>
<rect x="78" y="37" width="1" height="410"/>
<rect x="79" y="39" width="1" height="98" fill-opacity="0.075"/>
<rect x="79" y="140" width="1" height="99" fill-opacity="0.075"/>
<rect x="79" y="242" width="1" height="98" fill-opacity="0.075"/>
<rect x="79" y="343" width="1" height="98" fill-opacity="0.075"/>
<rect x="301" y="442" width="1" height="5"/>
<rect x="525" y="442" width="1" height="5"/>
<rect x="748" y="442" width="1" height="5"/>
<rect x="971" y="39" width="1" height="98" fill-opacity="0.075"/>
<rect x="971" y="140" width="1" height="99" fill-opacity="0.075"/>
<rect x="971" y="242" width="1" height="98" fill-opacity="0.075"/>
<rect x="971" y="343" width="1" height="98" fill-opacity="0.075"/>
<rect x="972" y="37" width="1" height="410"/>
<rect x="973" y="39" width="1" height="402" fill-opacity="0.055"/>
<rect x="73" y="36" width="1" height="1" fill-opacity="0.027"/>
<rect x="74" y="36" width="3" height="1" fill-opacity="0.055"/>
<rect x="77" y="36" width="1" height="1" fill-opacity="0.063"/>
<rect x="78" y="36" width="1" height="1" fill-opacity="0.133"/>
<rect x="79" y="36" width="1" height="1" fill-opacity="0.059"/>
<rect x="80" y="36" width="891" height="1" fill-opacity="0.055"/>
<rect x="971" y="36" width="1" height="1" fill-opacity="0.059"/>
<rect x="972" y="36" width="1" height="1" fill-opacity="0.110"/>
<rect x="973" y="36" width="1" height="1" fill-opacity="0.008"/>
<rect x="73" y="37" width="1" height="1" fill-opacity="0.502"/>
<rect x="74" y="37" width="4" height="1"/>
<rect x="79" y="37" width="893" height="1"/>
<rect x="973" y="37" width="1" height="1" fill-opacity="0.110"/>
<rect x="73" y="38" width="1" height="1" fill-opacity="0.027"/>
<rect x="74" y="38" width="3" height="1" fill-opacity="0.055"/>
<rect x="77" y="38" width="1" height="1" fill-opacity="0.114"/>
<rect x="79" y="38" width="1" height="1" fill-opacity="0.145"/>
<rect x="80" y="38" width="220" height="1" fill-opacity="0.075"/>
<rect x="300" y="38" width="1" height="1" fill-opacity="0.094"/>
<rect x="301" y="38" width="1" height="1" fill-opacity="0.349"/>
<rect x="302" y="38" width="1" height="1" fill-opacity="0.094"/>
<rect x="303" y="38" width="221" height="1" fill-opacity="0.075"/>
<rect x="524" y="38" width="1" height="1" fill-opacity="0.094"/>
<rect x="525" y="38" width="1" height="1" fill-opacity="0.349"/>
<rect x="526" y="38" width="1" height="1" fill-opacity="0.094"/>
<rect x="527" y="38" width="220" height="1" fill-opacity="0.075"/>
<rect x="747" y="38" width="1" height="1" fill-opacity="0.094"/>
<rect x="748" y="38" width="1" height="1" fill-opacity="0.349"/>
<rect x="749" y="38" width="1" height="1" fill-opacity="0.094"/>
<rect x="750" y="38" width="221" height="1" fill-opacity="0.075"/>
<rect x="971" y="38" width="1" height="1" fill-opacity="0.145"/>
<rect x="973" y="38" width="1" height="1" fill-opacity="0.059"/>
<rect x="77" y="39" width="1" height="1" fill-opacity="0.055"/>
<rect x="77" y="40" width="1" height="1" fill-opacity="0.055"/>
<rect x="77" y="41" width="1" height="1" fill-opacity="0.055"/>
<rect x="75" y="42" width="1" height="1" fill-opacity="0.420"/>
<rect x="76" y="42" width="1" height="1" fill-opacity="0.839"/>
<rect x="77" y="42" width="1" height="1" fill-opacity="0.851"/>
<rect x="75" y="47" width="1" height="1" fill-opacity="0.420"/>
<rect x="76" y="47" width="1" height="1" fill-opacity="0.839"/>
<rect x="77" y="47" width="1" height="1" fill-opacity="0.851"/>
<rect x="75" y="53" width="1" height="1" fill-opacity="0.420"/>
<rect x="76" y="53" width="1" height="1" fill-opacity="0.839"/>
<rect x="77" y="53" width="1" height="1" fill-opacity="0.851"/>
<rect x="75" y="60" width="1" height="1" fill-opacity="0.420"/>
<rect x="76" y="60" width="1" height="1" fill-opacity="0.839"/>
<rect x="77" y="60" width="1" height="1" fill-opacity="0.851"/>
<rect x="75" y="68" width="1" height="1" fill-opacity="0.420"/>
<rect x="76" y="68" width="1" height="1" fill-opacity="0.839"/>
<rect x="77" y="68" width="1" height="1" fill-opacity="0.851"/>
<rect x="75" y="78" width="1" height="1" fill-opacity="0.420"/>
<rect x="76" y="78" width="1" height="1" fill-opacity="0.839"/>
<rect x="77" y="78" width="1" height="1" fill-opacity="0.851"/>
<rect x="75" y="90" width="1" height="1" fill-opacity="0.420"/>
<rect x="76" y="90" width="1" height="1" fill-opacity="0.839"/>
<rect x="77" y="90" width="1" height="1" fill-opacity="0.851"/>
<rect x="75" y="108" width="1" height="1" fill-opacity="0.420"/>
<rect x="76" y="108" width="1" height="1" fill-opacity="0.839"/>
<rect x="77" y="108" width="1" height="1" fill-opacity="0.851"/>
<rect x="73" y="137" width="1" height="1" fill-opacity="0.027"/>
<rect x="74" y="137" width="3" height="1" fill-opacity="0.055"/>
<rect x="77" y="137" width="1" height="1" fill-opacity="0.110"/>
<rect x="79" y="137" width="1" height="1" fill-opacity="0.094"/>
<rect x="971" y="137" width="1" height="1" fill-opacity="0.094"/>
<rect x="73" y="138" width="1" height="1" fill-opacity="0.502"/>
<rect x="74" y="138" width="4" height="1"/>
<rect x="79" y="138" width="1" height="1" fill-opacity="0.349"/>
<rect x="971" y="138" width="1" height="1" fill-opacity="0.349"/>
<rect x="73" y="139" width="1" height="1" fill-opacity="0.027"/>
<rect x="74" y="139" width="3" height="1" fill-opacity="0.055"/>
<rect x="77" y="139" width="1" height="1" fill-opacity="0.110"/>
<rect x="79" y="139" width="1" height="1" fill-opacity="0.094"/>
<rect x="971" y="139" width="1" height="1" fill-opacity="0.094"/>
<rect x="77" y="140" width="1" height="1" fill-opacity="0.055"/>
<rect x="77" y="141" width="1" height="1" fill-opacity="0.055"/>
<rect x="77" y="142" width="1" height="1" fill-opacity="0.055"/>
<rect x="75" y="143" width="1" height="1" fill-opacity="0.420"/>
<rect x="76" y="143" width="1" height="1" fill-opacity="0.839"/>
<rect x="77" y="143" width="1" height="1" fill-opacity="0.851"/>
<rect x="75" y="148" width="1" height="1" fill-opacity="0.420"/>
<rect x="76" y="148" width="1" height="1" fill-opacity="0.839"/>
<rect x="77" y="148" width="1" height="1" fill-opacity="0.851"/>
<rect x="75" y="154" width="1" height="1" fill-opacity="0.420"/>
<rect x="76" y="154" width="1" height="1" fill-opacity="0.839"/>
<rect x="77" y="154" width="1" height="1" fill-opacity="0.851"/>
<rect x="75" y="161" width="1" height="1" fill-opacity="0.420"/>
<rect x="76" y="161" width="1" height="1" fill-opacity="0.839"/>
<rect x="77" y="161" width="1" height="1" fill-opacity="0.851"/>
<rect x="75" y="169" width="1" height="1" fill-opacity="0.420"/>
<rect x="76" y="169" width="1" height="1" fill-opacity="0.839"/>
<rect x="77" y="169" width="1" height="1" fill-opacity="0.851"/>
<rect x="75" y="179" width="1" height="1" fill-opacity="0.420"/>
<rect x="76" y="179" width="1" height="1" fill-opacity="0.839"/>
<rect x="77" y="179" width="1" height="1" fill-opacity="0.851"/>
<rect x="75" y="191" width="1" height="1" fill-opacity="0.420"/>
<rect x="76" y="191" width="1" height="1" fill-opacity="0.839"/>
<rect x="77" y="191" width="1" height="1" fill-opacity="0.851"/>
<rect x="75" y="209" width="1" height="1" fill-opacity="0.420"/>
<rect x="76" y="209" width="1" height="1" fill-opacity="0.839"/>
<rect x="77" y="209" width="1" height="1" fill-opacity="0.851"/>
<rect x="73" y="239" width="1" height="1" fill-opacity="0.027"/>
<rect x="74" y="239" width="3" height="1" fill-opacity="0.055"/>
<rect x="77" y="239" width="1" height="1" fill-opacity="0.110"/>
<rect x="79" y="239" width="1" height="1" fill-opacity="0.094"/>
<rect x="971" y="239" width="1" height="1" fill-opacity="0.094"/>
<rect x="73" y="240" width="1" height="1" fill-opacity="0.502"/>
<rect x="74" y="240" width="4" height="1"/>
<rect x="79" y="240" width="1" height="1" fill-opacity="0.349"/>
<rect x="971" y="240" width="1" height="1" fill-opacity="0.349"/>
<rect x="73" y="241" width="1" height="1" fill-opacity="0.027"/>
<rect x="74" y="241" width="3" height="1" fill-opacity="0.055"/>
<rect x="77" y="241" width="1" height="1" fill-opacity="0.110"/>
<rect x="79" y="241" width="1" height="1" fill-opacity="0.094"/>
<rect x="971" y="241" width="1" height="1" fill-opacity="0.094"/>
<rect x="77" y="242" width="1" height="1" fill-opacity="0.055"/>
<rect x="77" y="243" width="1" height="1" fill-opacity="0.055"/>
<rect x="75" y="244" width="1" height="1" fill-opacity="0.420"/>
<rect x="76" y="244" width="1" height="1" fill-opacity="0.839"/>
<rect x="77" y="244" width="1" height="1" fill-opacity="0.851"/>
<rect x="75" y="249" width="1" height="1" fill-opacity="0.420"/>
<rect x="76" y="249" width="1" height="1" fill-opacity="0.839"/>
<rect x="77" y="249" width="1" height="1" fill-opacity="0.851"/>
<rect x="75" y="255" width="1" height="1" fill-opacity="0.420"/>
<rect x="76" y="255" width="1" height="1" fill-opacity="0.839"/>
<rect x="77" y="255" width="1" height="1" fill-opacity="0.851"/>
<rect x="75" y="262" width="1" height="1" fill-opacity="0.420"/>
<rect x="76" y="262" width="1" height="1" fill-opacity="0.839"/>
<rect x="77" y="262" width="1" height="1" fill-opacity="0.851"/>
<rect x="75" y="270" width="1" height="1" fill-opacity="0.420"/>
<rect x="76" y="270" width="1" height="1" fill-opacity="0.839"/>
<rect x="77" y="270" width="1" height="1" fill-opacity="0.851"/>
<rect x="75" y="280" width="1" height="1" fill-opacity="0.420"/>
<rect x="76" y="280" width="1" height="1" fill-opacity="0.839"/>
<rect x="77" y="280" width="1" height="1" fill-opacity="0.851"/>
<rect x="75" y="292" width="1" height="1" fill-opacity="0.420"/>
<rect x="76" y="292" width="1" height="1" fill-opacity="0.839"/>
<rect x="77" y="292" width="1" height="1" fill-opacity="0.851"/>
<rect x="75" y="310" width="1" height="1" fill-opacity="0.420"/>
<rect x="76" y="310" width="1" height="1" fill-opacity="0.839"/>
<rect x="77" y="310" width="1" height="1" fill-opacity="0.851"/>
<rect x="73" y="340" width="1" height="1" fill-opacity="0.027"/>
<rect x="74" y="340" width="3" height="1" fill-opacity="0.055"/>
<rect x="77" y="340" width="1" height="1" fill-opacity="0.110"/>
<rect x="79" y="340" width="1" height="1" fill-opacity="0.094"/>
<rect x="971" y="340" width="1" height="1" fill-opacity="0.094"/>
<rect x="73" y="341" width="1" height="1" fill-opacity="0.502"/>
<rect x="74" y="341" width="4" height="1"/>
<rect x="79" y="341" width="1" height="1" fill-opacity="0.349"/>
<rect x="971" y="341" width="1" height="1" fill-opacity="0.349"/>
<rect x="73" y="342" width="1" height="1" fill-opacity="0.027"/>
<rect x="74" y="342" width="3" height="1" fill-opacity="0.055"/>
<rect x="77" y="342" width="1" height="1" fill-opacity="0.110"/>
<rect x="79" y="342" width="1" height="1" fill-opacity="0.094"/>
<rect x="971" y="342" width="1" height="1" fill-opacity="0.094"/>
<rect x="77" y="343" width="1" height="1" fill-opacity="0.055"/>
<rect x="77" y="344" width="1" height="1" fill-opacity="0.055"/>
<rect x="75" y="345" width="1" height="1" fill-opacity="0.420"/>
<rect x="76" y="345" width="1" height="1" fill-opacity="0.839"/>
<rect x="77" y="345" width="1" height="1" fill-opacity="0.851"/>
<rect x="75" y="350" width="1" height="1" fill-opacity="0.420"/>
<rect x="76" y="350" width="1" height="1" fill-opacity="0.839"/>
<rect x="77" y="350" width="1" height="1" fill-opacity="0.851"/>
<rect x="75" y="356" width="1" height="1" fill-opacity="0.420"/>
<rect x="76" y="356" width="1" height="1" fill-opacity="0.839"/>
<rect x="77" y="356" width="1" height="1" fill-opacity="0.851"/>
<rect x="75" y="363" width="1" height="1" fill-opacity="0.420"/>
<rect x="76" y="363" width="1" height="1" fill-opacity="0.839"/>
<rect x="77" y="363" width="1" height="1" fill-opacity="0.851"/>
<rect x="75" y="371" width="1" height="1" fill-opacity="0.420"/>
<rect x="76" y="371" width="1" height="1" fill-opacity="0.839"/>
<rect x="77" y="371" width="1" height="1" fill-opacity="0.851"/>
<rect x="75" y="381" width="1" height="1" fill-opacity="0.420"/>
<rect x="76" y="381" width="1" height="1" fill-opacity="0.839"/>
<rect x="77" y="381" width="1" height="1" fill-opacity="0.851"/>
<rect x="75" y="393" width="1" height="1" fill-opacity="0.420"/>
<rect x="76" y="393" width="1" height="1" fill-opacity="0.839"/>
<rect x="77" y="393" width="1" height="1" fill-opacity="0.851"/>
<rect x="75" y="411" width="1" height="1" fill-opacity="0.420"/>
<rect x="76" y="411" width="1" height="1" fill-opacity="0.839"/>
<rect x="77" y="411" width="1" height="1" fill-opacity="0.851"/>
<rect x="73" y="441" width="1" height="1" fill-opacity="0.027"/>
<rect x="74" y="441" width="3" height="1" fill-opacity="0.055"/>
<rect x="77" y="441" width="1" height="1" fill-opacity="0.114"/>
<rect x="79" y="441" width="1" height="1" fill-opacity="0.145"/>
<rect x="80" y="441" width="220" height="1" fill-opacity="0.075"/>
<rect x="300" y="441" width="1" height="1" fill-opacity="0.094"/>
<rect x="301" y="441" width="1" height="1" fill-opacity="0.349"/>
<rect x="302" y="441" width="1" height="1" fill-opacity="0.094"/>
<rect x="303" y="441" width="221" height="1" fill-opacity="0.075"/>
<rect x="524" y="441" width="1" height="1" fill-opacity="0.094"/>
<rect x="525" y="441" width="1" height="1" fill-opacity="0.349"/>
<rect x="526" y="441" width="1" height="1" fill-opacity="0.094"/>
<rect x="527" y="441" width="220" height="1" fill-opacity="0.075"/>
<rect x="747" y="441" width="1" height="1" fill-opacity="0.094"/>
<rect x="748" y="441" width="1" height="1" fill-opacity="0.349"/>
<rect x="749" y="441" width="1" height="1" fill-opacity="0.094"/>
<rect x="750" y="441" width="221" height="1" fill-opacity="0.075"/>
<rect x="971" y="441" width="1" height="1" fill-opacity="0.145"/>
<rect x="973" y="441" width="1" height="1" fill-opacity="0.059"/>
<rect x="73" y="442" width="1" height="1" fill-opacity="0.502"/>
<rect x="74" y="442" width="4" height="1"/>
<rect x="79" y="442" width="222" height="1"/>
<rect x="302" y="442" width="223" height="1"/>
<rect x="526" y="442" width="222" height="1"/>
<rect x="749" y="442" width="223" height="1"/>
<rect x="973" y="442" width="1" height="1" fill-opacity="0.133"/>
<rect x="73" y="443" width="1" height="1" fill-opacity="0.027"/>
<rect x="74" y="443" width="3" height="1" fill-opacity="0.055"/>
<rect x="77" y="443" width="1" height="1" fill-opacity="0.118"/>
<rect x="79" y="443" width="1" height="1" fill-opacity="0.114"/>
<rect x="80" y="443" width="65" height="1" fill-opacity="0.055"/>
<rect x="145" y="443" width="1" height="1" fill-opacity="0.851"/>
<rect x="146" y="443" width="38" height="1" fill-opacity="0.055"/>
<rect x="184" y="443" width="1" height="1" fill-opacity="0.851"/>
<rect x="185" y="443" width="27" height="1" fill-opacity="0.055"/>
<rect x="212" y="443" width="1" height="1" fill-opacity="0.851"/>
<rect x="213" y="443" width="21" height="1" fill-opacity="0.055"/>
<rect x="234" y="443" width="1" height="1" fill-opacity="0.851"/>
<rect x="235" y="443" width="17" height="1" fill-opacity="0.055"/>
<rect x="252" y="443" width="1" height="1" fill-opacity="0.851"/>
<rect x="253" y="443" width="14" height="1" fill-opacity="0.055"/>
<rect x="267" y="443" width="1" height="1" fill-opacity="0.851"/>
<rect x="268" y="443" width="12" height="1" fill-opacity="0.055"/>
<rect x="280" y="443" width="1" height="1" fill-opacity="0.851"/>
<rect x="281" y="443" width="10" height="1" fill-opacity="0.055"/>
<rect x="291" y="443" width="1" height="1" fill-opacity="0.851"/>
<rect x="292" y="443" width="8" height="1" fill-opacity="0.055"/>
<rect x="300" y="443" width="1" height="1" fill-opacity="0.110"/>
<rect x="302" y="443" width="1" height="1" fill-opacity="0.110"/>
<rect x="303" y="443" width="66" height="1" fill-opacity="0.055"/>
<rect x="369" y="443" width="1" height="1" fill-opacity="0.851"/>
<rect x="370" y="443" width="38" height="1" fill-opacity="0.055"/>
<rect x="408" y="443" width="1" height="1" fill-opacity="0.851"/>
<rect x="409" y="443" width="27" height="1" fill-opacity="0.055"/>
<rect x="436" y="443" width="1" height="1" fill-opacity="0.851"/>
<rect x="437" y="443" width="21" height="1" fill-opacity="0.055"/>
<rect x="458" y="443" width="1" height="1" fill-opacity="0.851"/>
<rect x="459" y="443" width="16" height="1" fill-opacity="0.055"/>
<rect x="475" y="443" width="1" height="1" fill-opacity="0.851"/>
<rect x="476" y="443" width="14" height="1" fill-opacity="0.055"/>
<rect x="490" y="443" width="1" height="1" fill-opacity="0.851"/>
<rect x="491" y="443" width="12" height="1" fill-opacity="0.055"/>
<rect x="503" y="443" width="1" height="1" fill-opacity="0.851"/>
<rect x="504" y="443" width="11" height="1" fill-opacity="0.055"/>
<rect x="515" y="443" width="1" height="1" fill-opacity="0.851"/>
<rect x="516" y="443" width="8" height="1" fill-opacity="0.055"/>
<rect x="524" y="443" width="1" height="1" fill-opacity="0.110"/>
<rect x="526" y="443" width="1" height="1" fill-opacity="0.110"/>
<rect x="527" y="443" width="65" height="1" fill-opacity="0.055"/>
<rect x="592" y="443" width="1" height="1" fill-opacity="0.851"/>
<rect x="593" y="443" width="38" height="1" fill-opacity="0.055"/>
<rect x="631" y="443" width="1" height="1" fill-opacity="0.851"/>
<rect x="632" y="443" width="27" height="1" fill-opacity="0.055"/>
<rect x="659" y="443" width="1" height="1" fill-opacity="0.851"/>
<rect x="660" y="443" width="21" height="1" fill-opacity="0.055"/>
<rect x="681" y="443" width="1" height="1" fill-opacity="0.851"/>
<rect x="682" y="443" width="17" height="1" fill-opacity="0.055"/>
<rect x="699" y="443" width="1" height="1" fill-opacity="0.851"/>
<rect x="700" y="443" width="14" height="1" fill-opacity="0.055"/>
<rect x="714" y="443" width="1" height="1" fill-opacity="0.851"/>
<rect x="715" y="443" width="12" height="1" fill-opacity="0.055"/>
<rect x="727" y="443" width="1" height="1" fill-opacity="0.851"/>
<rect x="728" y="443" width="10" height="1" fill-opacity="0.055"/>
<rect x="738" y="443" width="1" height="1" fill-opacity="0.851"/>
<rect x="739" y="443" width="8" height="1" fill-opacity="0.055"/>
<rect x="747" y="443" width="1" height="1" fill-opacity="0.110"/>
<rect x="749" y="443" width="1" height="1" fill-opacity="0.110"/>
<rect x="750" y="443" width="66" height="1" fill-opacity="0.055"/>
<rect x="816" y="443" width="1" height="1" fill-opacity="0.851"/>
<rect x="817" y="443" width="38" height="1" fill-opacity="0.055"/>
<rect x="855" y="443" width="1" height="1" fill-opacity="0.851"/>
<rect x="856" y="443" width="27" height="1" fill-opacity="0.055"/>
<rect x="883" y="443" width="1" height="1" fill-opacity="0.851"/>
<rect x="884" y="443" width="21" height="1" fill-opacity="0.055"/>
<rect x="905" y="443" width="1" height="1" fill-opacity="0.851"/>
<rect x="906" y="443" width="16" height="1" fill-opacity="0.055"/>
<rect x="922" y="443" width="1" height="1" fill-opacity="0.851"/>
<rect x="923" y="443" width="14" height="1" fill-opacity="0.055"/>
<rect x="937" y="443" width="1" height="1" fill-opacity="0.851"/>
<rect x="938" y="443" width="12" height="1" fill-opacity="0.055"/>
<rect x="950" y="443" width="1" height="1" fill-opacity="0.851"/>
<rect x="951" y="443" width="11" height="1" fill-opacity="0.055"/>
<rect x="962" y="443" width="1" height="1" fill-opacity="0.851"/>
<rect x="963" y="443" width="8" height="1" fill-opacity="0.055"/>
<rect x="971" y="443" width="1" height="1" fill-opacity="0.114"/>
<rect x="973" y="443" width="1" height="1" fill-opacity="0.063"/>
<rect x="77" y="444" width="1" height="1" fill-opacity="0.055"/>
<rect x="79" y="444" width="1" height="1" fill-opacity="0.055"/>
<rect x="145" y="444" width="1" height="1" fill-opacity="0.839"/>
<rect x="184" y="444" width="1" height="1" fill-opacity="0.839"/>
<rect x="212" y="444" width="1" height="1" fill-opacity="0.839"/>
<rect x="234" y="444" width="1" height="1" fill-opacity="0.839"/>
<rect x="252" y="444" width="1" height="1" fill-opacity="0.839"/>
<rect x="267" y="444" width="1" height="1" fill-opacity="0.839"/>
<rect x="280" y="444" width="1" height="1" fill-opacity="0.839"/>
<rect x="291" y="444" width="1" height="1" fill-opacity="0.839"/>
<rect x="300" y="444" width="1" height="1" fill-opacity="0.055"/>
<rect x="302" y="444" width="1" height="1" fill-opacity="0.055"/>
<rect x="369" y="444" width="1" height="1" fill-opacity="0.839"/>
<rect x="408" y="444" width="1" height="1" fill-opacity="0.839"/>
<rect x="436" y="444" width="1" height="1" fill-opacity="0.839"/>
<rect x="458" y="444" width="1" height="1" fill-opacity="0.839"/>
<rect x="475" y="444" width="1" height="1" fill-opacity="0.839"/>
<rect x="490" y="444" width="1" height="1" fill-opacity="0.839"/>
<rect x="503" y="444" width="1" height="1" fill-opacity="0.839"/>
<rect x="515" y="444" width="1" height="1" fill-opacity="0.839"/>
<rect x="524" y="444" width="1" height="1" fill-opacity="0.055"/>
<rect x="526" y="444" width="1" height="1" fill-opacity="0.055"/>
<rect x="592" y="444" width="1" height="1" fill-opacity="0.839"/>
<rect x="631" y="444" width="1" height="1" fill-opacity="0.839"/>
<rect x="659" y="444" width="1" height="1" fill-opacity="0.839"/>
<rect x="681" y="444" width="1" height="1" fill-opacity="0.839"/>
<rect x="699" y="444" width="1" height="1" fill-opacity="0.839"/>
<rect x="714" y="444" width="1" height="1" fill-opacity="0.839"/>
<rect x="727" y="444" width="1" height="1" fill-opacity="0.839"/>
<rect x="738" y="444" width="1" height="1" fill-opacity="0.839"/>
<rect x="747" y="444" width="1" height="1" fill-opacity="0.055"/>
<rect x="749" y="444" width="1" height="1" fill-opacity="0.055"/>
<rect x="816" y="444" width="1" height="1" fill-opacity="0.839"/>
<rect x="855" y="444" width="1" height="1" fill-opacity="0.839"/>
<rect x="883" y="444" width="1" height="1" fill-opacity="0.839"/>
<rect x="905" y="444" width="1" height="1" fill-opacity="0.839"/>
<rect x="922" y="444" width="1" height="1" fill-opacity="0.839"/>
<rect x="937" y="444" width="1" height="1" fill-opacity="0.839"/>
<rect x="950" y="444" width="1" height="1" fill-opacity="0.839"/>
<rect x="962" y="444" width="1" height="1" fill-opacity="0.839"/>
<rect x="971" y="444" width="1" height="1" fill-opacity="0.055"/>
<rect x="973" y="444" width="1" height="1" fill-opacity="0.055"/>
<rect x="77" y="445" width="1" height="1" fill-opacity="0.055"/>
<rect x="79" y="445" width="1" height="1" fill-opacity="0.055"/>
<rect x="145" y="445" width="1" height="1" fill-opacity="0.420"/>
<rect x="184" y="445" width="1" height="1" fill-opacity="0.420"/>
<rect x="212" y="445" width="1" height="1" fill-opacity="0.420"/>
<rect x="234" y="445" width="1" height="1" fill-opacity="0.420"/>
<rect x="252" y="445" width="1" height="1" fill-opacity="0.420"/>
<rect x="267" y="445" width="1" height="1" fill-opacity="0.420"/>
<rect x="280" y="445" width="1" height="1" fill-opacity="0.420"/>
<rect x="291" y="445" width="1" height="1" fill-opacity="0.420"/>
<rect x="300" y="445" width="1" height="1" fill-opacity="0.055"/>
<rect x="302" y="445" width="1" height="1" fill-opacity="0.055"/>
<rect x="369" y="445" width="1" height="1" fill-opacity="0.420"/>
<rect x="408" y="445" width="1" height="1" fill-opacity="0.420"/>
<rect x="436" y="445" width="1" height="1" fill-opacity="0.420"/>
<rect x="458" y="445" width="1" height="1" fill-opacity="0.420"/>
<rect x="475" y="445" width="1" height="1" fill-opacity="0.420"/>
<rect x="490" y="445" width="1" height="1" fill-opacity="0.420"/>
<rect x="503" y="445" width="1" height="1" fill-opacity="0.420"/>
<rect x="515" y="445" width="1" height="1" fill-opacity="0.420"/>
<rect x="524" y="445" width="1" height="1" fill-opacity="0.055"/>
<rect x="526" y="445" width="1" height="1" fill-opacity="0.055"/>
<rect x="592" y="445" width="1" height="1" fill-opacity="0.420"/>
<rect x="631" y="445" width="1" height="1" fill-opacity="0.420"/>
<rect x="659" y="445" width="1" height="1" fill-opacity="0.420"/>
<rect x="681" y="445" width="1" height="1" fill-opacity="0.420"/>
<rect x="699" y="445" width="1" height="1" fill-opacity="0.420"/>
<rect x="714" y="445" width="1" height="1" fill-opacity="0.420"/>
<rect x="727" y="445" width="1" height="1" fill-opacity="0.420"/>
<rect x="738" y="445" width="1" height="1" fill-opacity="0.420"/>
<rect x="747" y="445" width="1" height="1" fill-opacity="0.055"/>
<rect x="749" y="445" width="1" height="1" fill-opacity="0.055"/>
<rect x="816" y="445" width="1" height="1" fill-opacity="0.420"/>
<rect x="855" y="445" width="1" height="1" fill-opacity="0.420"/>
<rect x="883" y="445" width="1" height="1" fill-opacity="0.420"/>
<rect x="905" y="445" width="1" height="1" fill-opacity="0.420"/>
<rect x="922" y="445" width="1" height="1" fill-opacity="0.420"/>
<rect x="937" y="445" width="1" height="1" fill-opacity="0.420"/>
<rect x="950" y="445" width="1" height="1" fill-opacity="0.420"/>
<rect x="962" y="445" width="1" height="1" fill-opacity="0.420"/>
<rect x="971" y="445" width="1" height="1" fill-opacity="0.055"/>
<rect x="973" y="445" width="1" height="1" fill-opacity="0.055"/>
<rect x="77" y="446" width="1" height="1" fill-opacity="0.055"/>
<rect x="79" y="446" width="1" height="1" fill-opacity="0.055"/>
<rect x="300" y="446" width="1" height="1" fill-opacity="0.055"/>
<rect x="302" y="446" width="1" height="1" fill-opacity="0.055"/>
<rect x="524" y="446" width="1" height="1" fill-opacity="0.055"/>
<rect x="526" y="446" width="1" height="1" fill-opacity="0.055"/>
<rect x="747" y="446" width="1" height="1" fill-opacity="0.055"/>
<rect x="749" y="446" width="1" height="1" fill-opacity="0.055"/>
<rect x="971" y="446" width="1" height="1" fill-opacity="0.055"/>
<rect x="973" y="446" width="1" height="1" fill-opacity="0.055"/>
<rect x="77" y="447" width="1" height="1" fill-opacity="0.027"/>
<rect x="78" y="447" width="1" height="1" fill-opacity="0.502"/>
<rect x="79" y="447" width="1" height="1" fill-opacity="0.027"/>
<rect x="300" y="447" width="1" height="1" fill-opacity="0.027"/>
<rect x="301" y="447" width="1" height="1" fill-opacity="0.502"/>
<rect x="302" y="447" width="1" height="1" fill-opacity="0.027"/>
<rect x="524" y="447" width="1" height="1" fill-opacity="0.027"/>
<rect x="525" y="447" width="1" height="1" fill-opacity="0.502"/>
<rect x="526" y="447" width="1" height="1" fill-opacity="0.027"/>
<rect x="747" y="447" width="1" height="1" fill-opacity="0.027"/>
<rect x="748" y="447" width="1" height="1" fill-opacity="0.502"/>
<rect x="749" y="447" width="1" height="1" fill-opacity="0.027"/>
<rect x="971" y="447" width="1" height="1" fill-opacity="0.027"/>
<rect x="972" y="447" width="1" height="1" fill-opacity="0.502"/>
<rect x="973" y="447" width="1" height="1" fill-opacity="0.027"/>
</g>
<g fill="#000">
<text transform="translate(524.602,28.500) scale(1,1.0700)" style="font-size:16.617px;font-family:'DejaVu Sans','Liberation Sans',sans-serif" text-anchor="middle" stroke="#000" stroke-width="0.060">Generalised Lomb-Scargle periodogram of ASCC 1044191</text>
<text transform="translate(524.790,481.500) scale(1,1.0625)" style="font-size:13.939px;font-family:'DejaVu Sans','Liberation Sans',sans-serif" text-anchor="middle" stroke="#000" stroke-width="0.015">Period (days)</text>
<text transform="translate(25.501,242.468) rotate(-90) scale(1,0.9900)" style="font-size:13.489px;font-family:'DejaVu Sans','Liberation Sans',sans-serif" text-anchor="middle" stroke="#000" stroke-width="0.075">Power</text>
<text transform="translate(77.645,461.500) scale(1,1.0550)" style="font-size:13.489px;font-family:'DejaVu Sans','Liberation Sans',sans-serif" text-anchor="middle" stroke="#000" stroke-width="0.105">0.01</text>
<text transform="translate(301.530,461.500) scale(1,1.0400)" style="font-size:13.689px;font-family:'DejaVu Sans','Liberation Sans',sans-serif" text-anchor="middle" stroke="#000" stroke-width="0.120">0.1</text>
<text transform="translate(525.290,461.500) scale(1,1.0250)" style="font-size:13.889px;font-family:'DejaVu Sans','Liberation Sans',sans-serif" text-anchor="middle" stroke="#000" stroke-width="0.000">1</text>
<text transform="translate(748.175,461.500) scale(1,1.0800)" style="font-size:13.439px;font-family:'DejaVu Sans','Liberation Sans',sans-serif" text-anchor="middle" stroke="#000" stroke-width="0.000">10</text>
<text transform="translate(971.560,461.500) scale(1,1.0575)" style="font-size:13.289px;font-family:'DejaVu Sans','Liberation Sans',sans-serif" text-anchor="middle" stroke="#000" stroke-width="0.022">100</text>
<text transform="translate(35.631,449.124) scale(1,1.0375)" style="font-size:13.564px;font-family:'DejaVu Sans','Liberation Sans',sans-serif" stroke="#000" stroke-width="0.000"><tspan x="0" y="-0.089">1</tspan><tspan x="8.630" y="-0.089">0</tspan><tspan x="17.389" y="-5.406" style="font-size:9.495px">−</tspan><tspan x="25.345" y="-5.406" style="font-size:9.495px">4</tspan></text>
<text transform="translate(35.631,347.839) scale(1,0.9925)" style="font-size:13.589px;font-family:'DejaVu Sans','Liberation Sans',sans-serif" stroke="#000" stroke-width="0.075"><tspan x="0" y="-1.356">1</tspan><tspan x="8.646" y="-1.356">0</tspan><tspan x="17.421" y="-6.673" style="font-size:9.512px">−</tspan><tspan x="25.392" y="-6.673" style="font-size:9.512px">3</tspan></text>
<text transform="translate(35.631,247.304) scale(1,1.0200)" style="font-size:13.589px;font-family:'DejaVu Sans','Liberation Sans',sans-serif" stroke="#000" stroke-width="0.000"><tspan x="0" y="-1.356">1</tspan><tspan x="8.646" y="-1.356">0</tspan><tspan x="17.421" y="-6.673" style="font-size:9.512px">−</tspan><tspan x="25.392" y="-6.673" style="font-size:9.512px">2</tspan></text>
<text transform="translate(35.631,145.426) scale(1,1.0950)" style="font-size:13.539px;font-family:'DejaVu Sans','Liberation Sans',sans-serif" stroke="#000" stroke-width="0.000"><tspan x="0" y="-0.089">1</tspan><tspan x="8.614" y="-0.089">0</tspan><tspan x="17.357" y="-5.406" style="font-size:9.477px">−</tspan><tspan x="25.298" y="-5.406" style="font-size:9.477px">1</tspan></text>
<text transform="translate(43.638,45.110) scale(1,0.9900)" style="font-size:13.489px;font-family:'DejaVu Sans','Liberation Sans',sans-serif" stroke="#000" stroke-width="0.000"><tspan x="0" y="-1.356">1</tspan><tspan x="8.582" y="-1.356">0</tspan><tspan x="17.293" y="-6.673" style="font-size:9.442px">0</tspan></text>
</g>
</svg>
</body></html>
